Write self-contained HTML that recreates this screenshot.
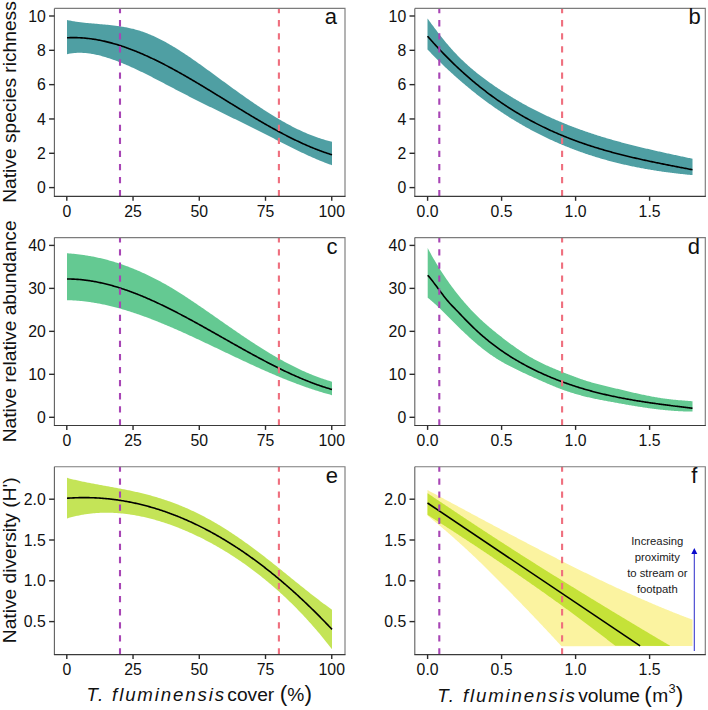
<!DOCTYPE html>
<html><head><meta charset="utf-8"><style>
html,body{margin:0;padding:0;background:#fff;}
svg{display:block;}
text{font-family:"Liberation Sans",sans-serif;fill:#111;}
.tk{font-size:15.8px;}
.lt{font-size:22px;}
.yt{font-size:19.2px;}
.xt{font-size:19.2px;}
.xi{font-size:18.7px;font-style:italic;letter-spacing:1.84px;}
.xp{font-size:22.6px;}
.xp2{font-size:20.7px;}
.xs{font-size:12.8px;}
.an{font-size:11.3px;fill:#1a1a1a;}
</style></head><body>
<svg width="708" height="710" viewBox="0 0 708 710">
<rect width="708" height="710" fill="#fff"/>
<path d="M67.00,19.98 68.00,20.20 69.00,20.40 70.00,20.60 71.00,20.79 72.00,20.98 73.00,21.15 74.00,21.32 75.00,21.48 76.00,21.63 77.00,21.78 78.00,21.92 79.00,22.06 80.00,22.19 81.00,22.32 82.00,22.44 83.00,22.55 84.00,22.66 85.00,22.77 86.00,22.88 87.00,22.98 88.00,23.08 89.00,23.17 90.00,23.26 91.00,23.35 92.00,23.44 93.00,23.53 94.00,23.62 95.00,23.70 96.00,23.79 97.00,23.87 98.00,23.96 99.00,24.04 100.00,24.13 101.00,24.21 102.00,24.30 103.00,24.39 104.00,24.48 105.00,24.57 106.00,24.66 107.00,24.76 108.00,24.86 109.00,24.96 110.00,25.06 111.00,25.17 112.00,25.28 113.00,25.40 114.00,25.51 115.00,25.64 116.00,25.76 117.00,25.90 118.00,26.03 119.00,26.18 120.00,26.32 121.00,26.48 122.00,26.64 123.00,26.81 124.00,26.98 125.00,27.16 126.00,27.34 127.00,27.54 128.00,27.74 129.00,27.95 130.00,28.17 131.00,28.39 132.00,28.63 133.00,28.87 134.00,29.12 135.00,29.39 136.00,29.66 137.00,29.94 138.00,30.23 139.00,30.53 140.00,30.85 141.00,31.17 142.00,31.50 143.00,31.85 144.00,32.20 145.00,32.57 146.00,32.94 147.00,33.33 148.00,33.72 149.00,34.13 150.00,34.54 151.00,34.97 152.00,35.40 153.00,35.85 154.00,36.30 155.00,36.76 156.00,37.23 157.00,37.70 158.00,38.19 159.00,38.69 160.00,39.19 161.00,39.70 162.00,40.22 163.00,40.75 164.00,41.28 165.00,41.82 166.00,42.37 167.00,42.93 168.00,43.49 169.00,44.06 170.00,44.64 171.00,45.22 172.00,45.81 173.00,46.41 174.00,47.01 175.00,47.62 176.00,48.23 177.00,48.85 178.00,49.48 179.00,50.11 180.00,50.74 181.00,51.38 182.00,52.03 183.00,52.68 184.00,53.34 185.00,54.00 186.00,54.67 187.00,55.33 188.00,56.01 189.00,56.69 190.00,57.37 191.00,58.05 192.00,58.74 193.00,59.44 194.00,60.13 195.00,60.83 196.00,61.53 197.00,62.24 198.00,62.95 199.00,63.66 200.00,64.37 201.00,65.08 202.00,65.80 203.00,66.52 204.00,67.24 205.00,67.97 206.00,68.69 207.00,69.42 208.00,70.14 209.00,70.87 210.00,71.60 211.00,72.33 212.00,73.06 213.00,73.80 214.00,74.53 215.00,75.26 216.00,76.00 217.00,76.73 218.00,77.46 219.00,78.19 220.00,78.93 221.00,79.66 222.00,80.39 223.00,81.13 224.00,81.86 225.00,82.59 226.00,83.32 227.00,84.05 228.00,84.78 229.00,85.51 230.00,86.24 231.00,86.96 232.00,87.69 233.00,88.41 234.00,89.14 235.00,89.86 236.00,90.58 237.00,91.30 238.00,92.02 239.00,92.73 240.00,93.45 241.00,94.16 242.00,94.87 243.00,95.58 244.00,96.29 245.00,96.99 246.00,97.69 247.00,98.39 248.00,99.09 249.00,99.79 250.00,100.48 251.00,101.17 252.00,101.86 253.00,102.55 254.00,103.23 255.00,103.91 256.00,104.59 257.00,105.26 258.00,105.93 259.00,106.60 260.00,107.27 261.00,107.93 262.00,108.59 263.00,109.24 264.00,109.89 265.00,110.54 266.00,111.18 267.00,111.82 268.00,112.46 269.00,113.09 270.00,113.72 271.00,114.35 272.00,114.97 273.00,115.58 274.00,116.19 275.00,116.80 276.00,117.40 277.00,118.00 278.00,118.60 279.00,119.19 280.00,119.77 281.00,120.35 282.00,120.92 283.00,121.49 284.00,122.06 285.00,122.62 286.00,123.17 287.00,123.72 288.00,124.26 289.00,124.80 290.00,125.33 291.00,125.86 292.00,126.38 293.00,126.90 294.00,127.41 295.00,127.91 296.00,128.41 297.00,128.90 298.00,129.39 299.00,129.86 300.00,130.34 301.00,130.80 302.00,131.26 303.00,131.72 304.00,132.16 305.00,132.60 306.00,133.04 307.00,133.46 308.00,133.88 309.00,134.30 310.00,134.70 311.00,135.10 312.00,135.49 313.00,135.87 314.00,136.25 315.00,136.62 316.00,136.98 317.00,137.33 318.00,137.68 319.00,138.02 320.00,138.35 321.00,138.67 322.00,138.98 323.00,139.29 324.00,139.59 325.00,139.88 326.00,140.16 327.00,140.43 328.00,140.70 329.00,140.95 330.00,141.20 331.00,141.44 332.00,141.67 L332.00,165.21 331.00,164.86 330.00,164.50 329.00,164.14 328.00,163.78 327.00,163.40 326.00,163.03 325.00,162.64 324.00,162.26 323.00,161.86 322.00,161.47 321.00,161.06 320.00,160.66 319.00,160.24 318.00,159.83 317.00,159.41 316.00,158.98 315.00,158.55 314.00,158.12 313.00,157.68 312.00,157.24 311.00,156.80 310.00,156.35 309.00,155.90 308.00,155.44 307.00,154.98 306.00,154.52 305.00,154.06 304.00,153.59 303.00,153.12 302.00,152.64 301.00,152.17 300.00,151.69 299.00,151.20 298.00,150.72 297.00,150.23 296.00,149.74 295.00,149.25 294.00,148.76 293.00,148.26 292.00,147.77 291.00,147.27 290.00,146.77 289.00,146.26 288.00,145.76 287.00,145.26 286.00,144.75 285.00,144.24 284.00,143.73 283.00,143.22 282.00,142.71 281.00,142.20 280.00,141.69 279.00,141.18 278.00,140.67 277.00,140.16 276.00,139.64 275.00,139.13 274.00,138.62 273.00,138.10 272.00,137.59 271.00,137.08 270.00,136.57 269.00,136.06 268.00,135.55 267.00,135.04 266.00,134.53 265.00,134.02 264.00,133.51 263.00,133.00 262.00,132.50 261.00,131.99 260.00,131.49 259.00,130.99 258.00,130.49 257.00,129.99 256.00,129.49 255.00,128.99 254.00,128.49 253.00,127.99 252.00,127.49 251.00,127.00 250.00,126.50 249.00,126.01 248.00,125.51 247.00,125.02 246.00,124.52 245.00,124.03 244.00,123.54 243.00,123.04 242.00,122.55 241.00,122.06 240.00,121.57 239.00,121.08 238.00,120.59 237.00,120.10 236.00,119.61 235.00,119.12 234.00,118.63 233.00,118.14 232.00,117.65 231.00,117.16 230.00,116.67 229.00,116.19 228.00,115.70 227.00,115.21 226.00,114.72 225.00,114.23 224.00,113.74 223.00,113.25 222.00,112.76 221.00,112.28 220.00,111.79 219.00,111.30 218.00,110.81 217.00,110.32 216.00,109.83 215.00,109.34 214.00,108.84 213.00,108.35 212.00,107.86 211.00,107.37 210.00,106.88 209.00,106.38 208.00,105.89 207.00,105.40 206.00,104.90 205.00,104.41 204.00,103.91 203.00,103.41 202.00,102.92 201.00,102.42 200.00,101.92 199.00,101.42 198.00,100.92 197.00,100.42 196.00,99.92 195.00,99.42 194.00,98.91 193.00,98.41 192.00,97.90 191.00,97.40 190.00,96.89 189.00,96.38 188.00,95.87 187.00,95.36 186.00,94.85 185.00,94.34 184.00,93.82 183.00,93.31 182.00,92.79 181.00,92.28 180.00,91.76 179.00,91.24 178.00,90.72 177.00,90.19 176.00,89.67 175.00,89.15 174.00,88.62 173.00,88.10 172.00,87.57 171.00,87.05 170.00,86.52 169.00,85.99 168.00,85.47 167.00,84.94 166.00,84.41 165.00,83.89 164.00,83.36 163.00,82.84 162.00,82.31 161.00,81.79 160.00,81.26 159.00,80.74 158.00,80.22 157.00,79.70 156.00,79.18 155.00,78.66 154.00,78.15 153.00,77.63 152.00,77.12 151.00,76.61 150.00,76.10 149.00,75.60 148.00,75.09 147.00,74.59 146.00,74.09 145.00,73.59 144.00,73.10 143.00,72.60 142.00,72.11 141.00,71.63 140.00,71.14 139.00,70.66 138.00,70.19 137.00,69.71 136.00,69.24 135.00,68.78 134.00,68.31 133.00,67.86 132.00,67.40 131.00,66.95 130.00,66.50 129.00,66.06 128.00,65.62 127.00,65.19 126.00,64.76 125.00,64.33 124.00,63.91 123.00,63.50 122.00,63.09 121.00,62.69 120.00,62.29 119.00,61.89 118.00,61.50 117.00,61.12 116.00,60.74 115.00,60.37 114.00,60.01 113.00,59.65 112.00,59.30 111.00,58.95 110.00,58.61 109.00,58.27 108.00,57.95 107.00,57.63 106.00,57.31 105.00,57.01 104.00,56.71 103.00,56.42 102.00,56.14 101.00,55.87 100.00,55.61 99.00,55.36 98.00,55.12 97.00,54.89 96.00,54.66 95.00,54.45 94.00,54.25 93.00,54.07 92.00,53.89 91.00,53.73 90.00,53.57 89.00,53.43 88.00,53.31 87.00,53.19 86.00,53.10 85.00,53.01 84.00,52.94 83.00,52.88 82.00,52.84 81.00,52.81 80.00,52.80 79.00,52.81 78.00,52.83 77.00,52.86 76.00,52.92 75.00,52.99 74.00,53.08 73.00,53.18 72.00,53.30 71.00,53.45 70.00,53.61 69.00,53.79 68.00,53.98 67.00,54.20 Z" fill="#4f9fa3"/>
<polyline points="67.00,37.77 68.00,37.72 69.00,37.68 70.00,37.65 71.00,37.63 72.00,37.61 73.00,37.60 74.00,37.61 75.00,37.61 76.00,37.63 77.00,37.66 78.00,37.69 79.00,37.73 80.00,37.78 81.00,37.83 82.00,37.90 83.00,37.97 84.00,38.05 85.00,38.14 86.00,38.23 87.00,38.33 88.00,38.44 89.00,38.56 90.00,38.68 91.00,38.81 92.00,38.95 93.00,39.10 94.00,39.25 95.00,39.41 96.00,39.58 97.00,39.75 98.00,39.93 99.00,40.12 100.00,40.31 101.00,40.51 102.00,40.72 103.00,40.93 104.00,41.15 105.00,41.38 106.00,41.61 107.00,41.85 108.00,42.10 109.00,42.35 110.00,42.61 111.00,42.87 112.00,43.14 113.00,43.42 114.00,43.70 115.00,43.99 116.00,44.29 117.00,44.59 118.00,44.89 119.00,45.21 120.00,45.52 121.00,45.85 122.00,46.18 123.00,46.51 124.00,46.85 125.00,47.20 126.00,47.55 127.00,47.90 128.00,48.27 129.00,48.63 130.00,49.00 131.00,49.38 132.00,49.76 133.00,50.15 134.00,50.54 135.00,50.94 136.00,51.34 137.00,51.74 138.00,52.16 139.00,52.57 140.00,52.99 141.00,53.42 142.00,53.85 143.00,54.28 144.00,54.72 145.00,55.16 146.00,55.61 147.00,56.06 148.00,56.51 149.00,56.97 150.00,57.44 151.00,57.90 152.00,58.37 153.00,58.85 154.00,59.33 155.00,59.81 156.00,60.30 157.00,60.79 158.00,61.28 159.00,61.78 160.00,62.28 161.00,62.79 162.00,63.29 163.00,63.81 164.00,64.32 165.00,64.84 166.00,65.36 167.00,65.88 168.00,66.41 169.00,66.94 170.00,67.48 171.00,68.01 172.00,68.55 173.00,69.09 174.00,69.64 175.00,70.19 176.00,70.74 177.00,71.29 178.00,71.85 179.00,72.40 180.00,72.96 181.00,73.53 182.00,74.09 183.00,74.66 184.00,75.23 185.00,75.80 186.00,76.38 187.00,76.95 188.00,77.53 189.00,78.11 190.00,78.69 191.00,79.28 192.00,79.86 193.00,80.45 194.00,81.04 195.00,81.63 196.00,82.23 197.00,82.82 198.00,83.42 199.00,84.01 200.00,84.61 201.00,85.21 202.00,85.81 203.00,86.42 204.00,87.02 205.00,87.62 206.00,88.23 207.00,88.84 208.00,89.44 209.00,90.05 210.00,90.66 211.00,91.27 212.00,91.88 213.00,92.50 214.00,93.11 215.00,93.72 216.00,94.34 217.00,94.95 218.00,95.56 219.00,96.18 220.00,96.79 221.00,97.41 222.00,98.02 223.00,98.64 224.00,99.26 225.00,99.87 226.00,100.49 227.00,101.10 228.00,101.72 229.00,102.34 230.00,102.95 231.00,103.57 232.00,104.18 233.00,104.80 234.00,105.41 235.00,106.02 236.00,106.64 237.00,107.25 238.00,107.86 239.00,108.47 240.00,109.08 241.00,109.69 242.00,110.30 243.00,110.91 244.00,111.51 245.00,112.12 246.00,112.72 247.00,113.33 248.00,113.93 249.00,114.53 250.00,115.13 251.00,115.73 252.00,116.33 253.00,116.92 254.00,117.51 255.00,118.11 256.00,118.70 257.00,119.29 258.00,119.87 259.00,120.46 260.00,121.04 261.00,121.63 262.00,122.21 263.00,122.78 264.00,123.36 265.00,123.93 266.00,124.51 267.00,125.08 268.00,125.64 269.00,126.21 270.00,126.77 271.00,127.33 272.00,127.89 273.00,128.44 274.00,129.00 275.00,129.55 276.00,130.09 277.00,130.64 278.00,131.18 279.00,131.72 280.00,132.25 281.00,132.79 282.00,133.32 283.00,133.84 284.00,134.37 285.00,134.89 286.00,135.41 287.00,135.92 288.00,136.43 289.00,136.94 290.00,137.44 291.00,137.94 292.00,138.44 293.00,138.93 294.00,139.42 295.00,139.91 296.00,140.39 297.00,140.87 298.00,141.34 299.00,141.81 300.00,142.28 301.00,142.74 302.00,143.20 303.00,143.66 304.00,144.11 305.00,144.55 306.00,144.99 307.00,145.43 308.00,145.86 309.00,146.29 310.00,146.72 311.00,147.14 312.00,147.55 313.00,147.96 314.00,148.37 315.00,148.77 316.00,149.16 317.00,149.55 318.00,149.94 319.00,150.32 320.00,150.69 321.00,151.07 322.00,151.43 323.00,151.79 324.00,152.15 325.00,152.50 326.00,152.84 327.00,153.18 328.00,153.51 329.00,153.84 330.00,154.16 331.00,154.48 332.00,154.79" fill="none" stroke="#000" stroke-width="1.6" stroke-linejoin="round"/>
<line x1="120.0" y1="8.4" x2="120.0" y2="196.4" stroke="#a845b5" stroke-width="2.1" stroke-dasharray="6.3 6.77" stroke-dashoffset="1.35"/>
<line x1="278.9" y1="8.4" x2="278.9" y2="196.4" stroke="#ef6f7e" stroke-width="2.1" stroke-dasharray="6.3 6.77" stroke-dashoffset="1.35"/>
<path d="M54.4,8.4H345.0V196.4" fill="none" stroke="#7c7c7c" stroke-width="1.15"/>
<path d="M54.4,196.4V8.4" fill="none" stroke="#5e5e5e" stroke-width="1.1"/>
<path d="M53.9,196.4H345.5" fill="none" stroke="#3a3a3a" stroke-width="1.1"/>
<line x1="66.80" y1="196.4" x2="66.80" y2="200.8" stroke="#2a2a2a" stroke-width="1.4"/>
<line x1="133.04" y1="196.4" x2="133.04" y2="200.8" stroke="#2a2a2a" stroke-width="1.4"/>
<line x1="199.28" y1="196.4" x2="199.28" y2="200.8" stroke="#2a2a2a" stroke-width="1.4"/>
<line x1="265.51" y1="196.4" x2="265.51" y2="200.8" stroke="#2a2a2a" stroke-width="1.4"/>
<line x1="331.75" y1="196.4" x2="331.75" y2="200.8" stroke="#2a2a2a" stroke-width="1.4"/>
<line x1="49.1" y1="187.60" x2="54.4" y2="187.60" stroke="#2a2a2a" stroke-width="1.4"/>
<text x="45.8" y="193.20" text-anchor="end" class="tk">0</text>
<line x1="49.1" y1="153.28" x2="54.4" y2="153.28" stroke="#2a2a2a" stroke-width="1.4"/>
<text x="45.8" y="158.88" text-anchor="end" class="tk">2</text>
<line x1="49.1" y1="118.96" x2="54.4" y2="118.96" stroke="#2a2a2a" stroke-width="1.4"/>
<text x="45.8" y="124.56" text-anchor="end" class="tk">4</text>
<line x1="49.1" y1="84.64" x2="54.4" y2="84.64" stroke="#2a2a2a" stroke-width="1.4"/>
<text x="45.8" y="90.24" text-anchor="end" class="tk">6</text>
<line x1="49.1" y1="50.32" x2="54.4" y2="50.32" stroke="#2a2a2a" stroke-width="1.4"/>
<text x="45.8" y="55.92" text-anchor="end" class="tk">8</text>
<line x1="49.1" y1="16.00" x2="54.4" y2="16.00" stroke="#2a2a2a" stroke-width="1.4"/>
<text x="45.8" y="21.60" text-anchor="end" class="tk">10</text>
<text x="337.00" y="24.20" text-anchor="end" class="lt">a</text>
<path d="M427.50,18.40 428.50,19.78 429.50,21.15 430.50,22.52 431.50,23.88 432.50,25.23 433.50,26.57 434.50,27.91 435.50,29.24 436.50,30.56 437.50,31.88 438.50,33.18 439.50,34.47 440.50,35.75 441.50,37.02 442.50,38.28 443.50,39.52 444.50,40.76 445.50,41.97 446.50,43.18 447.50,44.37 448.50,45.54 449.50,46.70 450.50,47.84 451.50,48.97 452.50,50.08 453.50,51.17 454.50,52.25 455.50,53.32 456.50,54.36 457.50,55.40 458.50,56.42 459.50,57.42 460.50,58.41 461.50,59.39 462.50,60.36 463.50,61.31 464.50,62.25 465.50,63.17 466.50,64.09 467.50,64.99 468.50,65.88 469.50,66.76 470.50,67.63 471.50,68.49 472.50,69.33 473.50,70.17 474.50,71.00 475.50,71.82 476.50,72.63 477.50,73.43 478.50,74.22 479.50,75.00 480.50,75.78 481.50,76.55 482.50,77.31 483.50,78.06 484.50,78.80 485.50,79.54 486.50,80.28 487.50,81.00 488.50,81.72 489.50,82.44 490.50,83.15 491.50,83.86 492.50,84.56 493.50,85.25 494.50,85.94 495.50,86.63 496.50,87.31 497.50,87.99 498.50,88.66 499.50,89.32 500.50,89.98 501.50,90.64 502.50,91.29 503.50,91.94 504.50,92.58 505.50,93.22 506.50,93.85 507.50,94.48 508.50,95.11 509.50,95.73 510.50,96.34 511.50,96.95 512.50,97.56 513.50,98.16 514.50,98.76 515.50,99.35 516.50,99.94 517.50,100.52 518.50,101.10 519.50,101.68 520.50,102.25 521.50,102.81 522.50,103.38 523.50,103.94 524.50,104.49 525.50,105.04 526.50,105.59 527.50,106.13 528.50,106.67 529.50,107.20 530.50,107.73 531.50,108.25 532.50,108.78 533.50,109.29 534.50,109.81 535.50,110.32 536.50,110.82 537.50,111.33 538.50,111.82 539.50,112.32 540.50,112.81 541.50,113.30 542.50,113.78 543.50,114.26 544.50,114.74 545.50,115.21 546.50,115.68 547.50,116.14 548.50,116.60 549.50,117.06 550.50,117.52 551.50,117.97 552.50,118.42 553.50,118.86 554.50,119.30 555.50,119.74 556.50,120.17 557.50,120.60 558.50,121.03 559.50,121.45 560.50,121.87 561.50,122.29 562.50,122.71 563.50,123.12 564.50,123.52 565.50,123.93 566.50,124.33 567.50,124.73 568.50,125.13 569.50,125.52 570.50,125.91 571.50,126.29 572.50,126.68 573.50,127.06 574.50,127.44 575.50,127.81 576.50,128.18 577.50,128.55 578.50,128.92 579.50,129.28 580.50,129.64 581.50,130.00 582.50,130.36 583.50,130.71 584.50,131.06 585.50,131.41 586.50,131.75 587.50,132.09 588.50,132.43 589.50,132.77 590.50,133.11 591.50,133.44 592.50,133.77 593.50,134.09 594.50,134.42 595.50,134.74 596.50,135.06 597.50,135.38 598.50,135.70 599.50,136.01 600.50,136.32 601.50,136.63 602.50,136.94 603.50,137.24 604.50,137.54 605.50,137.84 606.50,138.14 607.50,138.44 608.50,138.73 609.50,139.02 610.50,139.31 611.50,139.60 612.50,139.89 613.50,140.17 614.50,140.45 615.50,140.73 616.50,141.01 617.50,141.29 618.50,141.56 619.50,141.84 620.50,142.11 621.50,142.38 622.50,142.65 623.50,142.91 624.50,143.18 625.50,143.44 626.50,143.70 627.50,143.96 628.50,144.22 629.50,144.48 630.50,144.73 631.50,144.99 632.50,145.24 633.50,145.49 634.50,145.74 635.50,145.99 636.50,146.24 637.50,146.48 638.50,146.73 639.50,146.97 640.50,147.21 641.50,147.45 642.50,147.69 643.50,147.93 644.50,148.17 645.50,148.41 646.50,148.64 647.50,148.87 648.50,149.11 649.50,149.34 650.50,149.57 651.50,149.80 652.50,150.03 653.50,150.26 654.50,150.49 655.50,150.71 656.50,150.94 657.50,151.16 658.50,151.39 659.50,151.61 660.50,151.83 661.50,152.06 662.50,152.28 663.50,152.50 664.50,152.72 665.50,152.94 666.50,153.16 667.50,153.38 668.50,153.59 669.50,153.81 670.50,154.03 671.50,154.24 672.50,154.46 673.50,154.68 674.50,154.89 675.50,155.11 676.50,155.32 677.50,155.54 678.50,155.75 679.50,155.96 680.50,156.18 681.50,156.39 682.50,156.60 683.50,156.82 684.50,157.03 685.50,157.24 686.50,157.46 687.50,157.67 688.50,157.88 689.50,158.09 690.50,158.31 691.50,158.52 692.50,158.73 L692.50,175.12 691.50,175.02 690.50,174.93 689.50,174.83 688.50,174.74 687.50,174.64 686.50,174.54 685.50,174.44 684.50,174.33 683.50,174.23 682.50,174.12 681.50,174.01 680.50,173.90 679.50,173.79 678.50,173.68 677.50,173.56 676.50,173.45 675.50,173.33 674.50,173.21 673.50,173.09 672.50,172.96 671.50,172.84 670.50,172.71 669.50,172.58 668.50,172.45 667.50,172.32 666.50,172.19 665.50,172.05 664.50,171.91 663.50,171.77 662.50,171.63 661.50,171.49 660.50,171.34 659.50,171.19 658.50,171.04 657.50,170.89 656.50,170.74 655.50,170.58 654.50,170.42 653.50,170.26 652.50,170.10 651.50,169.94 650.50,169.77 649.50,169.60 648.50,169.43 647.50,169.26 646.50,169.08 645.50,168.90 644.50,168.73 643.50,168.54 642.50,168.36 641.50,168.17 640.50,167.98 639.50,167.79 638.50,167.60 637.50,167.41 636.50,167.21 635.50,167.01 634.50,166.81 633.50,166.60 632.50,166.39 631.50,166.18 630.50,165.97 629.50,165.76 628.50,165.54 627.50,165.32 626.50,165.10 625.50,164.87 624.50,164.65 623.50,164.42 622.50,164.18 621.50,163.95 620.50,163.71 619.50,163.47 618.50,163.23 617.50,162.98 616.50,162.73 615.50,162.48 614.50,162.23 613.50,161.97 612.50,161.72 611.50,161.45 610.50,161.19 609.50,160.92 608.50,160.65 607.50,160.38 606.50,160.10 605.50,159.82 604.50,159.54 603.50,159.26 602.50,158.97 601.50,158.68 600.50,158.39 599.50,158.09 598.50,157.79 597.50,157.49 596.50,157.19 595.50,156.88 594.50,156.57 593.50,156.25 592.50,155.94 591.50,155.62 590.50,155.29 589.50,154.97 588.50,154.64 587.50,154.31 586.50,153.97 585.50,153.63 584.50,153.29 583.50,152.94 582.50,152.60 581.50,152.24 580.50,151.89 579.50,151.53 578.50,151.17 577.50,150.80 576.50,150.44 575.50,150.07 574.50,149.69 573.50,149.31 572.50,148.93 571.50,148.55 570.50,148.16 569.50,147.77 568.50,147.37 567.50,146.97 566.50,146.57 565.50,146.16 564.50,145.76 563.50,145.34 562.50,144.93 561.50,144.51 560.50,144.08 559.50,143.66 558.50,143.23 557.50,142.79 556.50,142.35 555.50,141.91 554.50,141.47 553.50,141.02 552.50,140.57 551.50,140.11 550.50,139.65 549.50,139.19 548.50,138.72 547.50,138.25 546.50,137.77 545.50,137.29 544.50,136.81 543.50,136.33 542.50,135.83 541.50,135.34 540.50,134.84 539.50,134.34 538.50,133.83 537.50,133.32 536.50,132.81 535.50,132.29 534.50,131.77 533.50,131.25 532.50,130.72 531.50,130.18 530.50,129.64 529.50,129.10 528.50,128.56 527.50,128.01 526.50,127.45 525.50,126.89 524.50,126.33 523.50,125.76 522.50,125.19 521.50,124.62 520.50,124.04 519.50,123.45 518.50,122.87 517.50,122.27 516.50,121.68 515.50,121.08 514.50,120.47 513.50,119.86 512.50,119.25 511.50,118.63 510.50,118.01 509.50,117.38 508.50,116.75 507.50,116.11 506.50,115.47 505.50,114.83 504.50,114.18 503.50,113.53 502.50,112.87 501.50,112.21 500.50,111.54 499.50,110.87 498.50,110.19 497.50,109.51 496.50,108.83 495.50,108.14 494.50,107.44 493.50,106.74 492.50,106.04 491.50,105.33 490.50,104.62 489.50,103.90 488.50,103.18 487.50,102.45 486.50,101.72 485.50,100.98 484.50,100.24 483.50,99.49 482.50,98.74 481.50,97.98 480.50,97.22 479.50,96.45 478.50,95.68 477.50,94.91 476.50,94.13 475.50,93.34 474.50,92.55 473.50,91.75 472.50,90.95 471.50,90.15 470.50,89.34 469.50,88.52 468.50,87.70 467.50,86.87 466.50,86.04 465.50,85.21 464.50,84.37 463.50,83.52 462.50,82.67 461.50,81.81 460.50,80.95 459.50,80.08 458.50,79.21 457.50,78.33 456.50,77.45 455.50,76.56 454.50,75.67 453.50,74.77 452.50,73.87 451.50,72.96 450.50,72.04 449.50,71.12 448.50,70.20 447.50,69.27 446.50,68.33 445.50,67.39 444.50,66.44 443.50,65.49 442.50,64.53 441.50,63.57 440.50,62.60 439.50,61.63 438.50,60.65 437.50,59.66 436.50,58.67 435.50,57.67 434.50,56.67 433.50,55.66 432.50,54.65 431.50,53.63 430.50,52.61 429.50,51.58 428.50,50.54 427.50,49.50 Z" fill="#4f9fa3"/>
<polyline points="427.50,36.17 428.50,37.32 429.50,38.45 430.50,39.58 431.50,40.70 432.50,41.82 433.50,42.92 434.50,44.02 435.50,45.12 436.50,46.20 437.50,47.28 438.50,48.35 439.50,49.41 440.50,50.47 441.50,51.52 442.50,52.57 443.50,53.60 444.50,54.63 445.50,55.65 446.50,56.67 447.50,57.68 448.50,58.68 449.50,59.68 450.50,60.66 451.50,61.65 452.50,62.62 453.50,63.59 454.50,64.55 455.50,65.51 456.50,66.46 457.50,67.40 458.50,68.33 459.50,69.26 460.50,70.19 461.50,71.10 462.50,72.01 463.50,72.92 464.50,73.81 465.50,74.70 466.50,75.59 467.50,76.47 468.50,77.34 469.50,78.21 470.50,79.07 471.50,79.92 472.50,80.77 473.50,81.61 474.50,82.44 475.50,83.27 476.50,84.10 477.50,84.92 478.50,85.73 479.50,86.53 480.50,87.33 481.50,88.13 482.50,88.91 483.50,89.70 484.50,90.47 485.50,91.24 486.50,92.01 487.50,92.77 488.50,93.52 489.50,94.27 490.50,95.01 491.50,95.75 492.50,96.48 493.50,97.21 494.50,97.93 495.50,98.64 496.50,99.35 497.50,100.06 498.50,100.76 499.50,101.45 500.50,102.14 501.50,102.82 502.50,103.50 503.50,104.17 504.50,104.84 505.50,105.50 506.50,106.16 507.50,106.81 508.50,107.46 509.50,108.10 510.50,108.74 511.50,109.37 512.50,109.99 513.50,110.62 514.50,111.23 515.50,111.84 516.50,112.45 517.50,113.05 518.50,113.65 519.50,114.24 520.50,114.83 521.50,115.41 522.50,115.99 523.50,116.57 524.50,117.14 525.50,117.70 526.50,118.26 527.50,118.82 528.50,119.37 529.50,119.91 530.50,120.46 531.50,120.99 532.50,121.53 533.50,122.05 534.50,122.58 535.50,123.10 536.50,123.62 537.50,124.13 538.50,124.63 539.50,125.14 540.50,125.64 541.50,126.13 542.50,126.62 543.50,127.11 544.50,127.59 545.50,128.07 546.50,128.54 547.50,129.01 548.50,129.48 549.50,129.94 550.50,130.40 551.50,130.86 552.50,131.31 553.50,131.75 554.50,132.20 555.50,132.64 556.50,133.07 557.50,133.50 558.50,133.93 559.50,134.36 560.50,134.78 561.50,135.20 562.50,135.61 563.50,136.02 564.50,136.43 565.50,136.83 566.50,137.23 567.50,137.63 568.50,138.02 569.50,138.41 570.50,138.80 571.50,139.18 572.50,139.56 573.50,139.94 574.50,140.31 575.50,140.68 576.50,141.05 577.50,141.41 578.50,141.77 579.50,142.13 580.50,142.49 581.50,142.84 582.50,143.19 583.50,143.53 584.50,143.88 585.50,144.22 586.50,144.55 587.50,144.89 588.50,145.22 589.50,145.55 590.50,145.87 591.50,146.20 592.50,146.52 593.50,146.83 594.50,147.15 595.50,147.46 596.50,147.77 597.50,148.08 598.50,148.38 599.50,148.69 600.50,148.99 601.50,149.28 602.50,149.58 603.50,149.87 604.50,150.16 605.50,150.45 606.50,150.73 607.50,151.02 608.50,151.30 609.50,151.58 610.50,151.85 611.50,152.13 612.50,152.40 613.50,152.67 614.50,152.94 615.50,153.20 616.50,153.47 617.50,153.73 618.50,153.99 619.50,154.25 620.50,154.50 621.50,154.76 622.50,155.01 623.50,155.26 624.50,155.51 625.50,155.76 626.50,156.00 627.50,156.24 628.50,156.49 629.50,156.73 630.50,156.96 631.50,157.20 632.50,157.44 633.50,157.67 634.50,157.90 635.50,158.13 636.50,158.36 637.50,158.59 638.50,158.82 639.50,159.04 640.50,159.27 641.50,159.49 642.50,159.71 643.50,159.93 644.50,160.15 645.50,160.36 646.50,160.58 647.50,160.80 648.50,161.01 649.50,161.22 650.50,161.43 651.50,161.64 652.50,161.85 653.50,162.06 654.50,162.27 655.50,162.48 656.50,162.68 657.50,162.89 658.50,163.09 659.50,163.30 660.50,163.50 661.50,163.70 662.50,163.90 663.50,164.10 664.50,164.30 665.50,164.50 666.50,164.70 667.50,164.90 668.50,165.09 669.50,165.29 670.50,165.49 671.50,165.68 672.50,165.88 673.50,166.07 674.50,166.27 675.50,166.46 676.50,166.65 677.50,166.85 678.50,167.04 679.50,167.23 680.50,167.43 681.50,167.62 682.50,167.81 683.50,168.00 684.50,168.20 685.50,168.39 686.50,168.58 687.50,168.77 688.50,168.96 689.50,169.16 690.50,169.35 691.50,169.54 692.50,169.73" fill="none" stroke="#000" stroke-width="1.6" stroke-linejoin="round"/>
<line x1="439.3" y1="8.4" x2="439.3" y2="196.4" stroke="#a845b5" stroke-width="2.1" stroke-dasharray="6.3 6.77" stroke-dashoffset="1.35"/>
<line x1="562.1" y1="8.4" x2="562.1" y2="196.4" stroke="#ef6f7e" stroke-width="2.1" stroke-dasharray="6.3 6.77" stroke-dashoffset="1.35"/>
<path d="M414.8,8.4H705.3V196.4" fill="none" stroke="#7c7c7c" stroke-width="1.15"/>
<path d="M414.8,196.4V8.4" fill="none" stroke="#5e5e5e" stroke-width="1.1"/>
<path d="M414.3,196.4H705.8" fill="none" stroke="#3a3a3a" stroke-width="1.1"/>
<line x1="427.60" y1="196.4" x2="427.60" y2="200.8" stroke="#2a2a2a" stroke-width="1.4"/>
<line x1="501.60" y1="196.4" x2="501.60" y2="200.8" stroke="#2a2a2a" stroke-width="1.4"/>
<line x1="575.60" y1="196.4" x2="575.60" y2="200.8" stroke="#2a2a2a" stroke-width="1.4"/>
<line x1="649.60" y1="196.4" x2="649.60" y2="200.8" stroke="#2a2a2a" stroke-width="1.4"/>
<line x1="409.5" y1="187.60" x2="414.8" y2="187.60" stroke="#2a2a2a" stroke-width="1.4"/>
<text x="406.2" y="193.20" text-anchor="end" class="tk">0</text>
<line x1="409.5" y1="153.28" x2="414.8" y2="153.28" stroke="#2a2a2a" stroke-width="1.4"/>
<text x="406.2" y="158.88" text-anchor="end" class="tk">2</text>
<line x1="409.5" y1="118.96" x2="414.8" y2="118.96" stroke="#2a2a2a" stroke-width="1.4"/>
<text x="406.2" y="124.56" text-anchor="end" class="tk">4</text>
<line x1="409.5" y1="84.64" x2="414.8" y2="84.64" stroke="#2a2a2a" stroke-width="1.4"/>
<text x="406.2" y="90.24" text-anchor="end" class="tk">6</text>
<line x1="409.5" y1="50.32" x2="414.8" y2="50.32" stroke="#2a2a2a" stroke-width="1.4"/>
<text x="406.2" y="55.92" text-anchor="end" class="tk">8</text>
<line x1="409.5" y1="16.00" x2="414.8" y2="16.00" stroke="#2a2a2a" stroke-width="1.4"/>
<text x="406.2" y="21.60" text-anchor="end" class="tk">10</text>
<text x="700.70" y="24.20" text-anchor="end" class="lt">b</text>
<path d="M67.00,253.27 68.00,253.33 69.00,253.41 70.00,253.48 71.00,253.56 72.00,253.65 73.00,253.74 74.00,253.83 75.00,253.94 76.00,254.04 77.00,254.15 78.00,254.27 79.00,254.39 80.00,254.52 81.00,254.65 82.00,254.78 83.00,254.92 84.00,255.07 85.00,255.22 86.00,255.38 87.00,255.54 88.00,255.71 89.00,255.88 90.00,256.05 91.00,256.24 92.00,256.42 93.00,256.62 94.00,256.81 95.00,257.02 96.00,257.22 97.00,257.44 98.00,257.65 99.00,257.88 100.00,258.10 101.00,258.34 102.00,258.58 103.00,258.82 104.00,259.07 105.00,259.32 106.00,259.58 107.00,259.85 108.00,260.12 109.00,260.39 110.00,260.67 111.00,260.96 112.00,261.25 113.00,261.55 114.00,261.85 115.00,262.15 116.00,262.47 117.00,262.78 118.00,263.11 119.00,263.43 120.00,263.77 121.00,264.10 122.00,264.45 123.00,264.80 124.00,265.15 125.00,265.51 126.00,265.88 127.00,266.25 128.00,266.62 129.00,267.00 130.00,267.39 131.00,267.78 132.00,268.18 133.00,268.58 134.00,268.99 135.00,269.40 136.00,269.82 137.00,270.24 138.00,270.67 139.00,271.10 140.00,271.53 141.00,271.98 142.00,272.42 143.00,272.88 144.00,273.33 145.00,273.79 146.00,274.26 147.00,274.73 148.00,275.21 149.00,275.69 150.00,276.18 151.00,276.67 152.00,277.16 153.00,277.66 154.00,278.17 155.00,278.68 156.00,279.20 157.00,279.72 158.00,280.24 159.00,280.77 160.00,281.31 161.00,281.85 162.00,282.39 163.00,282.94 164.00,283.50 165.00,284.06 166.00,284.62 167.00,285.19 168.00,285.77 169.00,286.35 170.00,286.93 171.00,287.53 172.00,288.12 173.00,288.72 174.00,289.33 175.00,289.94 176.00,290.55 177.00,291.17 178.00,291.79 179.00,292.42 180.00,293.05 181.00,293.68 182.00,294.32 183.00,294.96 184.00,295.61 185.00,296.26 186.00,296.91 187.00,297.57 188.00,298.22 189.00,298.89 190.00,299.55 191.00,300.22 192.00,300.88 193.00,301.56 194.00,302.23 195.00,302.90 196.00,303.58 197.00,304.26 198.00,304.94 199.00,305.63 200.00,306.31 201.00,307.00 202.00,307.68 203.00,308.37 204.00,309.06 205.00,309.75 206.00,310.44 207.00,311.14 208.00,311.83 209.00,312.53 210.00,313.22 211.00,313.92 212.00,314.61 213.00,315.31 214.00,316.01 215.00,316.70 216.00,317.40 217.00,318.10 218.00,318.80 219.00,319.50 220.00,320.19 221.00,320.89 222.00,321.59 223.00,322.29 224.00,322.98 225.00,323.68 226.00,324.38 227.00,325.07 228.00,325.77 229.00,326.46 230.00,327.16 231.00,327.85 232.00,328.54 233.00,329.23 234.00,329.92 235.00,330.61 236.00,331.30 237.00,331.98 238.00,332.67 239.00,333.35 240.00,334.03 241.00,334.71 242.00,335.39 243.00,336.07 244.00,336.74 245.00,337.41 246.00,338.08 247.00,338.75 248.00,339.42 249.00,340.08 250.00,340.75 251.00,341.41 252.00,342.06 253.00,342.72 254.00,343.37 255.00,344.02 256.00,344.67 257.00,345.31 258.00,345.95 259.00,346.59 260.00,347.22 261.00,347.85 262.00,348.48 263.00,349.11 264.00,349.73 265.00,350.35 266.00,350.96 267.00,351.58 268.00,352.18 269.00,352.79 270.00,353.39 271.00,353.99 272.00,354.58 273.00,355.17 274.00,355.76 275.00,356.34 276.00,356.92 277.00,357.50 278.00,358.07 279.00,358.63 280.00,359.20 281.00,359.76 282.00,360.31 283.00,360.86 284.00,361.41 285.00,361.95 286.00,362.49 287.00,363.02 288.00,363.55 289.00,364.07 290.00,364.59 291.00,365.10 292.00,365.61 293.00,366.12 294.00,366.62 295.00,367.12 296.00,367.61 297.00,368.09 298.00,368.57 299.00,369.05 300.00,369.52 301.00,369.99 302.00,370.45 303.00,370.90 304.00,371.35 305.00,371.80 306.00,372.24 307.00,372.67 308.00,373.10 309.00,373.52 310.00,373.94 311.00,374.35 312.00,374.76 313.00,375.16 314.00,375.55 315.00,375.94 316.00,376.33 317.00,376.71 318.00,377.08 319.00,377.45 320.00,377.81 321.00,378.16 322.00,378.51 323.00,378.85 324.00,379.19 325.00,379.52 326.00,379.85 327.00,380.16 328.00,380.48 329.00,380.78 330.00,381.08 331.00,381.38 332.00,381.66 L332.00,395.15 331.00,394.88 330.00,394.62 329.00,394.35 328.00,394.07 327.00,393.79 326.00,393.51 325.00,393.22 324.00,392.93 323.00,392.64 322.00,392.34 321.00,392.04 320.00,391.74 319.00,391.43 318.00,391.12 317.00,390.81 316.00,390.49 315.00,390.17 314.00,389.85 313.00,389.52 312.00,389.19 311.00,388.86 310.00,388.52 309.00,388.18 308.00,387.84 307.00,387.49 306.00,387.14 305.00,386.79 304.00,386.44 303.00,386.08 302.00,385.72 301.00,385.36 300.00,384.99 299.00,384.62 298.00,384.25 297.00,383.88 296.00,383.50 295.00,383.12 294.00,382.74 293.00,382.36 292.00,381.97 291.00,381.58 290.00,381.19 289.00,380.80 288.00,380.40 287.00,380.00 286.00,379.60 285.00,379.20 284.00,378.79 283.00,378.38 282.00,377.97 281.00,377.56 280.00,377.15 279.00,376.73 278.00,376.31 277.00,375.89 276.00,375.47 275.00,375.05 274.00,374.62 273.00,374.19 272.00,373.76 271.00,373.33 270.00,372.90 269.00,372.46 268.00,372.03 267.00,371.59 266.00,371.15 265.00,370.71 264.00,370.27 263.00,369.82 262.00,369.38 261.00,368.93 260.00,368.48 259.00,368.03 258.00,367.58 257.00,367.13 256.00,366.67 255.00,366.22 254.00,365.76 253.00,365.30 252.00,364.84 251.00,364.38 250.00,363.92 249.00,363.46 248.00,363.00 247.00,362.54 246.00,362.07 245.00,361.60 244.00,361.14 243.00,360.67 242.00,360.20 241.00,359.73 240.00,359.27 239.00,358.80 238.00,358.32 237.00,357.85 236.00,357.38 235.00,356.91 234.00,356.44 233.00,355.96 232.00,355.49 231.00,355.01 230.00,354.54 229.00,354.06 228.00,353.59 227.00,353.11 226.00,352.64 225.00,352.16 224.00,351.69 223.00,351.21 222.00,350.73 221.00,350.26 220.00,349.78 219.00,349.30 218.00,348.83 217.00,348.35 216.00,347.87 215.00,347.40 214.00,346.92 213.00,346.45 212.00,345.97 211.00,345.50 210.00,345.02 209.00,344.55 208.00,344.07 207.00,343.60 206.00,343.13 205.00,342.65 204.00,342.18 203.00,341.71 202.00,341.24 201.00,340.77 200.00,340.30 199.00,339.83 198.00,339.36 197.00,338.90 196.00,338.43 195.00,337.96 194.00,337.50 193.00,337.04 192.00,336.57 191.00,336.11 190.00,335.65 189.00,335.19 188.00,334.74 187.00,334.28 186.00,333.82 185.00,333.37 184.00,332.92 183.00,332.47 182.00,332.02 181.00,331.57 180.00,331.12 179.00,330.68 178.00,330.23 177.00,329.79 176.00,329.35 175.00,328.91 174.00,328.47 173.00,328.04 172.00,327.61 171.00,327.17 170.00,326.74 169.00,326.32 168.00,325.89 167.00,325.47 166.00,325.05 165.00,324.63 164.00,324.21 163.00,323.79 162.00,323.38 161.00,322.97 160.00,322.56 159.00,322.16 158.00,321.75 157.00,321.35 156.00,320.95 155.00,320.56 154.00,320.16 153.00,319.77 152.00,319.38 151.00,319.00 150.00,318.62 149.00,318.24 148.00,317.86 147.00,317.48 146.00,317.11 145.00,316.74 144.00,316.38 143.00,316.01 142.00,315.66 141.00,315.30 140.00,314.94 139.00,314.59 138.00,314.25 137.00,313.90 136.00,313.56 135.00,313.22 134.00,312.89 133.00,312.56 132.00,312.23 131.00,311.91 130.00,311.59 129.00,311.27 128.00,310.96 127.00,310.65 126.00,310.34 125.00,310.04 124.00,309.74 123.00,309.45 122.00,309.16 121.00,308.87 120.00,308.59 119.00,308.31 118.00,308.03 117.00,307.76 116.00,307.49 115.00,307.23 114.00,306.97 113.00,306.72 112.00,306.47 111.00,306.22 110.00,305.98 109.00,305.74 108.00,305.51 107.00,305.28 106.00,305.05 105.00,304.84 104.00,304.62 103.00,304.41 102.00,304.20 101.00,304.00 100.00,303.81 99.00,303.61 98.00,303.43 97.00,303.24 96.00,303.07 95.00,302.89 94.00,302.73 93.00,302.56 92.00,302.41 91.00,302.25 90.00,302.11 89.00,301.96 88.00,301.83 87.00,301.70 86.00,301.57 85.00,301.45 84.00,301.33 83.00,301.22 82.00,301.12 81.00,301.02 80.00,300.92 79.00,300.83 78.00,300.75 77.00,300.67 76.00,300.60 75.00,300.54 74.00,300.48 73.00,300.42 72.00,300.37 71.00,300.33 70.00,300.29 69.00,300.26 68.00,300.24 67.00,300.22 Z" fill="#64c992"/>
<polyline points="67.00,279.00 68.00,279.00 69.00,279.01 70.00,279.03 71.00,279.05 72.00,279.08 73.00,279.12 74.00,279.16 75.00,279.21 76.00,279.27 77.00,279.34 78.00,279.41 79.00,279.49 80.00,279.57 81.00,279.67 82.00,279.76 83.00,279.87 84.00,279.98 85.00,280.10 86.00,280.23 87.00,280.36 88.00,280.50 89.00,280.64 90.00,280.79 91.00,280.95 92.00,281.11 93.00,281.28 94.00,281.45 95.00,281.64 96.00,281.82 97.00,282.02 98.00,282.21 99.00,282.42 100.00,282.63 101.00,282.85 102.00,283.07 103.00,283.30 104.00,283.53 105.00,283.77 106.00,284.01 107.00,284.26 108.00,284.52 109.00,284.78 110.00,285.05 111.00,285.32 112.00,285.59 113.00,285.88 114.00,286.16 115.00,286.46 116.00,286.75 117.00,287.05 118.00,287.36 119.00,287.67 120.00,287.99 121.00,288.31 122.00,288.64 123.00,288.97 124.00,289.31 125.00,289.65 126.00,289.99 127.00,290.34 128.00,290.70 129.00,291.05 130.00,291.42 131.00,291.79 132.00,292.16 133.00,292.53 134.00,292.91 135.00,293.30 136.00,293.69 137.00,294.08 138.00,294.47 139.00,294.88 140.00,295.28 141.00,295.69 142.00,296.10 143.00,296.52 144.00,296.94 145.00,297.36 146.00,297.79 147.00,298.22 148.00,298.65 149.00,299.09 150.00,299.53 151.00,299.97 152.00,300.42 153.00,300.87 154.00,301.33 155.00,301.79 156.00,302.25 157.00,302.71 158.00,303.18 159.00,303.65 160.00,304.12 161.00,304.60 162.00,305.08 163.00,305.56 164.00,306.04 165.00,306.53 166.00,307.02 167.00,307.51 168.00,308.01 169.00,308.51 170.00,309.01 171.00,309.51 172.00,310.01 173.00,310.52 174.00,311.03 175.00,311.54 176.00,312.06 177.00,312.58 178.00,313.09 179.00,313.62 180.00,314.14 181.00,314.66 182.00,315.19 183.00,315.72 184.00,316.25 185.00,316.78 186.00,317.32 187.00,317.85 188.00,318.39 189.00,318.93 190.00,319.47 191.00,320.01 192.00,320.56 193.00,321.10 194.00,321.65 195.00,322.20 196.00,322.75 197.00,323.30 198.00,323.85 199.00,324.40 200.00,324.96 201.00,325.51 202.00,326.07 203.00,326.63 204.00,327.19 205.00,327.74 206.00,328.30 207.00,328.87 208.00,329.43 209.00,329.99 210.00,330.55 211.00,331.12 212.00,331.68 213.00,332.24 214.00,332.81 215.00,333.37 216.00,333.94 217.00,334.51 218.00,335.07 219.00,335.64 220.00,336.20 221.00,336.77 222.00,337.34 223.00,337.91 224.00,338.47 225.00,339.04 226.00,339.61 227.00,340.17 228.00,340.74 229.00,341.30 230.00,341.87 231.00,342.44 232.00,343.00 233.00,343.57 234.00,344.13 235.00,344.69 236.00,345.26 237.00,345.82 238.00,346.38 239.00,346.94 240.00,347.50 241.00,348.06 242.00,348.62 243.00,349.18 244.00,349.73 245.00,350.29 246.00,350.84 247.00,351.40 248.00,351.95 249.00,352.50 250.00,353.05 251.00,353.60 252.00,354.15 253.00,354.69 254.00,355.24 255.00,355.78 256.00,356.32 257.00,356.86 258.00,357.40 259.00,357.94 260.00,358.47 261.00,359.01 262.00,359.54 263.00,360.07 264.00,360.60 265.00,361.12 266.00,361.65 267.00,362.17 268.00,362.69 269.00,363.20 270.00,363.72 271.00,364.23 272.00,364.74 273.00,365.25 274.00,365.76 275.00,366.26 276.00,366.76 277.00,367.26 278.00,367.76 279.00,368.25 280.00,368.74 281.00,369.23 282.00,369.72 283.00,370.20 284.00,370.68 285.00,371.16 286.00,371.63 287.00,372.10 288.00,372.57 289.00,373.04 290.00,373.50 291.00,373.96 292.00,374.42 293.00,374.87 294.00,375.32 295.00,375.76 296.00,376.21 297.00,376.64 298.00,377.08 299.00,377.51 300.00,377.94 301.00,378.37 302.00,378.79 303.00,379.20 304.00,379.62 305.00,380.03 306.00,380.43 307.00,380.84 308.00,381.23 309.00,381.63 310.00,382.02 311.00,382.40 312.00,382.79 313.00,383.16 314.00,383.54 315.00,383.91 316.00,384.27 317.00,384.63 318.00,384.99 319.00,385.34 320.00,385.69 321.00,386.03 322.00,386.37 323.00,386.70 324.00,387.03 325.00,387.35 326.00,387.67 327.00,387.98 328.00,388.29 329.00,388.60 330.00,388.90 331.00,389.19 332.00,389.48" fill="none" stroke="#000" stroke-width="1.6" stroke-linejoin="round"/>
<line x1="120.0" y1="237.6" x2="120.0" y2="425.5" stroke="#a845b5" stroke-width="2.1" stroke-dasharray="6.3 6.77" stroke-dashoffset="1.35"/>
<line x1="278.9" y1="237.6" x2="278.9" y2="425.5" stroke="#ef6f7e" stroke-width="2.1" stroke-dasharray="6.3 6.77" stroke-dashoffset="1.35"/>
<path d="M54.4,237.6H345.0V425.5" fill="none" stroke="#7c7c7c" stroke-width="1.15"/>
<path d="M54.4,425.5V237.6" fill="none" stroke="#5e5e5e" stroke-width="1.1"/>
<path d="M53.9,425.5H345.5" fill="none" stroke="#3a3a3a" stroke-width="1.1"/>
<line x1="66.80" y1="425.5" x2="66.80" y2="429.9" stroke="#2a2a2a" stroke-width="1.4"/>
<line x1="133.04" y1="425.5" x2="133.04" y2="429.9" stroke="#2a2a2a" stroke-width="1.4"/>
<line x1="199.28" y1="425.5" x2="199.28" y2="429.9" stroke="#2a2a2a" stroke-width="1.4"/>
<line x1="265.51" y1="425.5" x2="265.51" y2="429.9" stroke="#2a2a2a" stroke-width="1.4"/>
<line x1="331.75" y1="425.5" x2="331.75" y2="429.9" stroke="#2a2a2a" stroke-width="1.4"/>
<line x1="49.1" y1="417.30" x2="54.4" y2="417.30" stroke="#2a2a2a" stroke-width="1.4"/>
<text x="45.8" y="422.90" text-anchor="end" class="tk">0</text>
<line x1="49.1" y1="374.32" x2="54.4" y2="374.32" stroke="#2a2a2a" stroke-width="1.4"/>
<text x="45.8" y="379.93" text-anchor="end" class="tk">10</text>
<line x1="49.1" y1="331.35" x2="54.4" y2="331.35" stroke="#2a2a2a" stroke-width="1.4"/>
<text x="45.8" y="336.95" text-anchor="end" class="tk">20</text>
<line x1="49.1" y1="288.38" x2="54.4" y2="288.38" stroke="#2a2a2a" stroke-width="1.4"/>
<text x="45.8" y="293.98" text-anchor="end" class="tk">30</text>
<line x1="49.1" y1="245.40" x2="54.4" y2="245.40" stroke="#2a2a2a" stroke-width="1.4"/>
<text x="45.8" y="251.00" text-anchor="end" class="tk">40</text>
<text x="337.40" y="253.90" text-anchor="end" class="lt">c</text>
<path d="M427.70,248.10 428.70,249.96 429.70,251.80 430.70,253.62 431.70,255.41 432.70,257.17 433.70,258.91 434.69,260.62 435.69,262.31 436.69,263.97 437.69,265.62 438.69,267.23 439.69,268.83 440.69,270.41 441.69,271.96 442.69,273.49 443.69,275.01 444.69,276.50 445.69,277.97 446.69,279.42 447.68,280.86 448.68,282.27 449.68,283.67 450.68,285.05 451.68,286.41 452.68,287.76 453.68,289.08 454.68,290.40 455.68,291.70 456.68,292.98 457.68,294.25 458.68,295.50 459.68,296.74 460.68,297.96 461.67,299.17 462.67,300.37 463.67,301.55 464.67,302.71 465.67,303.86 466.67,304.99 467.67,306.11 468.67,307.22 469.67,308.31 470.67,309.39 471.67,310.45 472.67,311.49 473.67,312.52 474.66,313.54 475.66,314.55 476.66,315.54 477.66,316.52 478.66,317.49 479.66,318.44 480.66,319.39 481.66,320.32 482.66,321.24 483.66,322.15 484.66,323.05 485.66,323.94 486.66,324.82 487.65,325.70 488.65,326.56 489.65,327.41 490.65,328.26 491.65,329.10 492.65,329.93 493.65,330.75 494.65,331.56 495.65,332.37 496.65,333.18 497.65,333.97 498.65,334.76 499.65,335.55 500.64,336.33 501.64,337.11 502.64,337.88 503.64,338.65 504.64,339.41 505.64,340.17 506.64,340.93 507.64,341.68 508.64,342.43 509.64,343.17 510.64,343.90 511.64,344.63 512.64,345.36 513.64,346.08 514.63,346.79 515.63,347.50 516.63,348.20 517.63,348.90 518.63,349.58 519.63,350.27 520.63,350.94 521.63,351.60 522.63,352.26 523.63,352.91 524.63,353.55 525.63,354.19 526.63,354.81 527.62,355.42 528.62,356.03 529.62,356.63 530.62,357.22 531.62,357.79 532.62,358.36 533.62,358.92 534.62,359.47 535.62,360.00 536.62,360.53 537.62,361.06 538.62,361.57 539.62,362.07 540.61,362.57 541.61,363.06 542.61,363.54 543.61,364.01 544.61,364.48 545.61,364.94 546.61,365.40 547.61,365.84 548.61,366.29 549.61,366.73 550.61,367.16 551.61,367.59 552.61,368.02 553.60,368.44 554.60,368.85 555.60,369.27 556.60,369.68 557.60,370.09 558.60,370.49 559.60,370.90 560.60,371.30 561.60,371.70 562.60,372.10 563.60,372.50 564.60,372.89 565.60,373.29 566.60,373.68 567.59,374.07 568.59,374.46 569.59,374.85 570.59,375.23 571.59,375.61 572.59,375.99 573.59,376.37 574.59,376.74 575.59,377.11 576.59,377.47 577.59,377.84 578.59,378.19 579.59,378.55 580.58,378.89 581.58,379.24 582.58,379.58 583.58,379.91 584.58,380.24 585.58,380.57 586.58,380.88 587.58,381.20 588.58,381.50 589.58,381.80 590.58,382.10 591.58,382.39 592.58,382.67 593.57,382.95 594.57,383.22 595.57,383.48 596.57,383.75 597.57,384.01 598.57,384.26 599.57,384.51 600.57,384.76 601.57,385.01 602.57,385.26 603.57,385.50 604.57,385.74 605.57,385.98 606.56,386.22 607.56,386.46 608.56,386.70 609.56,386.94 610.56,387.18 611.56,387.42 612.56,387.66 613.56,387.90 614.56,388.14 615.56,388.39 616.56,388.63 617.56,388.87 618.56,389.11 619.56,389.35 620.55,389.59 621.55,389.83 622.55,390.07 623.55,390.31 624.55,390.55 625.55,390.79 626.55,391.03 627.55,391.26 628.55,391.50 629.55,391.73 630.55,391.97 631.55,392.20 632.55,392.43 633.54,392.66 634.54,392.88 635.54,393.11 636.54,393.34 637.54,393.56 638.54,393.78 639.54,394.00 640.54,394.22 641.54,394.43 642.54,394.64 643.54,394.85 644.54,395.06 645.54,395.27 646.53,395.47 647.53,395.67 648.53,395.87 649.53,396.06 650.53,396.26 651.53,396.45 652.53,396.63 653.53,396.81 654.53,396.99 655.53,397.17 656.53,397.34 657.53,397.51 658.53,397.68 659.52,397.84 660.52,398.00 661.52,398.15 662.52,398.31 663.52,398.45 664.52,398.59 665.52,398.73 666.52,398.87 667.52,399.00 668.52,399.12 669.52,399.24 670.52,399.36 671.52,399.47 672.52,399.58 673.51,399.68 674.51,399.78 675.51,399.87 676.51,399.96 677.51,400.05 678.51,400.13 679.51,400.22 680.51,400.30 681.51,400.37 682.51,400.45 683.51,400.53 684.51,400.60 685.51,400.68 686.50,400.75 687.50,400.82 688.50,400.90 689.50,400.98 690.50,401.06 691.50,401.14 692.50,401.22 L692.50,411.51 691.50,411.51 690.50,411.51 689.50,411.50 688.50,411.49 687.50,411.48 686.50,411.46 685.51,411.44 684.51,411.41 683.51,411.38 682.51,411.34 681.51,411.30 680.51,411.26 679.51,411.21 678.51,411.16 677.51,411.11 676.51,411.05 675.51,410.99 674.51,410.92 673.51,410.85 672.52,410.78 671.52,410.70 670.52,410.62 669.52,410.54 668.52,410.45 667.52,410.37 666.52,410.27 665.52,410.18 664.52,410.08 663.52,409.98 662.52,409.87 661.52,409.77 660.52,409.66 659.52,409.54 658.53,409.43 657.53,409.31 656.53,409.19 655.53,409.07 654.53,408.94 653.53,408.81 652.53,408.68 651.53,408.55 650.53,408.41 649.53,408.28 648.53,408.14 647.53,408.00 646.53,407.85 645.54,407.71 644.54,407.56 643.54,407.41 642.54,407.26 641.54,407.10 640.54,406.95 639.54,406.79 638.54,406.63 637.54,406.47 636.54,406.31 635.54,406.15 634.54,405.99 633.54,405.82 632.55,405.65 631.55,405.48 630.55,405.31 629.55,405.14 628.55,404.97 627.55,404.80 626.55,404.63 625.55,404.45 624.55,404.27 623.55,404.10 622.55,403.92 621.55,403.74 620.55,403.56 619.56,403.38 618.56,403.20 617.56,403.02 616.56,402.84 615.56,402.66 614.56,402.48 613.56,402.30 612.56,402.11 611.56,401.93 610.56,401.75 609.56,401.57 608.56,401.38 607.56,401.20 606.56,401.02 605.57,400.83 604.57,400.65 603.57,400.46 602.57,400.27 601.57,400.08 600.57,399.89 599.57,399.69 598.57,399.50 597.57,399.30 596.57,399.10 595.57,398.89 594.57,398.69 593.57,398.48 592.58,398.26 591.58,398.05 590.58,397.83 589.58,397.60 588.58,397.37 587.58,397.14 586.58,396.90 585.58,396.65 584.58,396.41 583.58,396.16 582.58,395.90 581.58,395.64 580.58,395.37 579.59,395.10 578.59,394.83 577.59,394.55 576.59,394.26 575.59,393.97 574.59,393.67 573.59,393.37 572.59,393.07 571.59,392.76 570.59,392.44 569.59,392.12 568.59,391.79 567.59,391.46 566.60,391.12 565.60,390.77 564.60,390.42 563.60,390.07 562.60,389.71 561.60,389.34 560.60,388.96 559.60,388.59 558.60,388.20 557.60,387.81 556.60,387.42 555.60,387.02 554.60,386.61 553.60,386.20 552.61,385.79 551.61,385.37 550.61,384.95 549.61,384.53 548.61,384.10 547.61,383.67 546.61,383.24 545.61,382.80 544.61,382.37 543.61,381.92 542.61,381.48 541.61,381.04 540.61,380.59 539.62,380.14 538.62,379.69 537.62,379.24 536.62,378.79 535.62,378.34 534.62,377.89 533.62,377.44 532.62,376.98 531.62,376.53 530.62,376.08 529.62,375.63 528.62,375.17 527.62,374.72 526.63,374.27 525.63,373.81 524.63,373.35 523.63,372.89 522.63,372.43 521.63,371.97 520.63,371.50 519.63,371.03 518.63,370.55 517.63,370.08 516.63,369.59 515.63,369.11 514.63,368.62 513.64,368.12 512.64,367.62 511.64,367.11 510.64,366.60 509.64,366.08 508.64,365.56 507.64,365.03 506.64,364.49 505.64,363.94 504.64,363.39 503.64,362.83 502.64,362.26 501.64,361.68 500.64,361.09 499.65,360.50 498.65,359.89 497.65,359.27 496.65,358.65 495.65,358.01 494.65,357.37 493.65,356.71 492.65,356.04 491.65,355.36 490.65,354.67 489.65,353.97 488.65,353.25 487.65,352.52 486.66,351.78 485.66,351.03 484.66,350.27 483.66,349.50 482.66,348.71 481.66,347.92 480.66,347.11 479.66,346.30 478.66,345.47 477.66,344.64 476.66,343.79 475.66,342.94 474.66,342.08 473.67,341.20 472.67,340.32 471.67,339.43 470.67,338.54 469.67,337.63 468.67,336.72 467.67,335.80 466.67,334.87 465.67,333.93 464.67,332.99 463.67,332.04 462.67,331.09 461.67,330.13 460.68,329.16 459.68,328.19 458.68,327.21 457.68,326.23 456.68,325.24 455.68,324.24 454.68,323.25 453.68,322.24 452.68,321.24 451.68,320.23 450.68,319.23 449.68,318.22 448.68,317.21 447.68,316.21 446.69,315.21 445.69,314.21 444.69,313.22 443.69,312.23 442.69,311.24 441.69,310.26 440.69,309.30 439.69,308.33 438.69,307.38 437.69,306.44 436.69,305.51 435.69,304.59 434.69,303.68 433.70,302.79 432.70,301.91 431.70,301.04 430.70,300.19 429.70,299.36 428.70,298.55 427.70,297.75 Z" fill="#64c992"/>
<polyline points="427.70,275.24 428.70,276.39 429.70,277.59 430.70,278.81 431.70,280.06 432.70,281.33 433.70,282.62 434.69,283.93 435.69,285.26 436.69,286.59 437.69,287.93 438.69,289.27 439.69,290.61 440.69,291.94 441.69,293.27 442.69,294.59 443.69,295.89 444.69,297.17 445.69,298.43 446.69,299.67 447.68,300.87 448.68,302.05 449.68,303.18 450.68,304.28 451.68,305.35 452.68,306.39 453.68,307.41 454.68,308.43 455.68,309.46 456.68,310.49 457.68,311.52 458.68,312.56 459.68,313.61 460.68,314.65 461.67,315.70 462.67,316.74 463.67,317.79 464.67,318.83 465.67,319.86 466.67,320.89 467.67,321.91 468.67,322.93 469.67,323.93 470.67,324.93 471.67,325.91 472.67,326.88 473.67,327.84 474.66,328.80 475.66,329.73 476.66,330.66 477.66,331.58 478.66,332.49 479.66,333.39 480.66,334.28 481.66,335.16 482.66,336.02 483.66,336.88 484.66,337.73 485.66,338.57 486.66,339.40 487.65,340.22 488.65,341.03 489.65,341.83 490.65,342.62 491.65,343.41 492.65,344.18 493.65,344.95 494.65,345.70 495.65,346.45 496.65,347.19 497.65,347.92 498.65,348.64 499.65,349.36 500.64,350.07 501.64,350.76 502.64,351.45 503.64,352.14 504.64,352.81 505.64,353.48 506.64,354.14 507.64,354.79 508.64,355.44 509.64,356.08 510.64,356.71 511.64,357.33 512.64,357.95 513.64,358.56 514.63,359.16 515.63,359.76 516.63,360.35 517.63,360.93 518.63,361.51 519.63,362.08 520.63,362.65 521.63,363.21 522.63,363.76 523.63,364.31 524.63,364.85 525.63,365.39 526.63,365.92 527.62,366.45 528.62,366.97 529.62,367.48 530.62,367.99 531.62,368.50 532.62,369.00 533.62,369.50 534.62,369.99 535.62,370.47 536.62,370.96 537.62,371.43 538.62,371.91 539.62,372.37 540.61,372.84 541.61,373.30 542.61,373.75 543.61,374.20 544.61,374.65 545.61,375.09 546.61,375.52 547.61,375.96 548.61,376.38 549.61,376.81 550.61,377.23 551.61,377.64 552.61,378.05 553.60,378.46 554.60,378.86 555.60,379.26 556.60,379.66 557.60,380.05 558.60,380.43 559.60,380.82 560.60,381.20 561.60,381.57 562.60,381.94 563.60,382.31 564.60,382.67 565.60,383.03 566.60,383.38 567.59,383.74 568.59,384.08 569.59,384.43 570.59,384.77 571.59,385.11 572.59,385.44 573.59,385.77 574.59,386.10 575.59,386.42 576.59,386.74 577.59,387.05 578.59,387.37 579.59,387.68 580.58,387.98 581.58,388.28 582.58,388.58 583.58,388.88 584.58,389.17 585.58,389.46 586.58,389.75 587.58,390.03 588.58,390.31 589.58,390.59 590.58,390.86 591.58,391.13 592.58,391.40 593.57,391.66 594.57,391.93 595.57,392.18 596.57,392.44 597.57,392.69 598.57,392.94 599.57,393.19 600.57,393.44 601.57,393.68 602.57,393.92 603.57,394.16 604.57,394.39 605.57,394.62 606.56,394.85 607.56,395.08 608.56,395.30 609.56,395.52 610.56,395.74 611.56,395.96 612.56,396.17 613.56,396.38 614.56,396.59 615.56,396.80 616.56,397.01 617.56,397.21 618.56,397.41 619.56,397.61 620.55,397.80 621.55,398.00 622.55,398.19 623.55,398.38 624.55,398.57 625.55,398.75 626.55,398.94 627.55,399.12 628.55,399.30 629.55,399.48 630.55,399.65 631.55,399.83 632.55,400.00 633.54,400.17 634.54,400.34 635.54,400.51 636.54,400.68 637.54,400.84 638.54,401.00 639.54,401.16 640.54,401.32 641.54,401.48 642.54,401.64 643.54,401.79 644.54,401.95 645.54,402.10 646.53,402.25 647.53,402.40 648.53,402.55 649.53,402.69 650.53,402.84 651.53,402.98 652.53,403.13 653.53,403.27 654.53,403.41 655.53,403.55 656.53,403.69 657.53,403.83 658.53,403.96 659.52,404.10 660.52,404.24 661.52,404.37 662.52,404.50 663.52,404.63 664.52,404.77 665.52,404.90 666.52,405.03 667.52,405.16 668.52,405.28 669.52,405.41 670.52,405.54 671.52,405.67 672.52,405.79 673.51,405.92 674.51,406.04 675.51,406.17 676.51,406.29 677.51,406.41 678.51,406.54 679.51,406.66 680.51,406.78 681.51,406.90 682.51,407.03 683.51,407.15 684.51,407.27 685.51,407.39 686.50,407.51 687.50,407.63 688.50,407.75 689.50,407.87 690.50,407.99 691.50,408.11 692.50,408.23" fill="none" stroke="#000" stroke-width="1.6" stroke-linejoin="round"/>
<line x1="439.3" y1="237.6" x2="439.3" y2="425.5" stroke="#a845b5" stroke-width="2.1" stroke-dasharray="6.3 6.77" stroke-dashoffset="1.35"/>
<line x1="562.1" y1="237.6" x2="562.1" y2="425.5" stroke="#ef6f7e" stroke-width="2.1" stroke-dasharray="6.3 6.77" stroke-dashoffset="1.35"/>
<path d="M414.8,237.6H705.3V425.5" fill="none" stroke="#7c7c7c" stroke-width="1.15"/>
<path d="M414.8,425.5V237.6" fill="none" stroke="#5e5e5e" stroke-width="1.1"/>
<path d="M414.3,425.5H705.8" fill="none" stroke="#3a3a3a" stroke-width="1.1"/>
<line x1="427.60" y1="425.5" x2="427.60" y2="429.9" stroke="#2a2a2a" stroke-width="1.4"/>
<line x1="501.60" y1="425.5" x2="501.60" y2="429.9" stroke="#2a2a2a" stroke-width="1.4"/>
<line x1="575.60" y1="425.5" x2="575.60" y2="429.9" stroke="#2a2a2a" stroke-width="1.4"/>
<line x1="649.60" y1="425.5" x2="649.60" y2="429.9" stroke="#2a2a2a" stroke-width="1.4"/>
<line x1="409.5" y1="417.30" x2="414.8" y2="417.30" stroke="#2a2a2a" stroke-width="1.4"/>
<text x="406.2" y="422.90" text-anchor="end" class="tk">0</text>
<line x1="409.5" y1="374.32" x2="414.8" y2="374.32" stroke="#2a2a2a" stroke-width="1.4"/>
<text x="406.2" y="379.93" text-anchor="end" class="tk">10</text>
<line x1="409.5" y1="331.35" x2="414.8" y2="331.35" stroke="#2a2a2a" stroke-width="1.4"/>
<text x="406.2" y="336.95" text-anchor="end" class="tk">20</text>
<line x1="409.5" y1="288.38" x2="414.8" y2="288.38" stroke="#2a2a2a" stroke-width="1.4"/>
<text x="406.2" y="293.98" text-anchor="end" class="tk">30</text>
<line x1="409.5" y1="245.40" x2="414.8" y2="245.40" stroke="#2a2a2a" stroke-width="1.4"/>
<text x="406.2" y="251.00" text-anchor="end" class="tk">40</text>
<text x="700.00" y="253.90" text-anchor="end" class="lt">d</text>
<path d="M67.00,477.85 68.00,478.12 69.00,478.39 70.00,478.64 71.00,478.90 72.00,479.15 73.00,479.39 74.00,479.64 75.00,479.87 76.00,480.11 77.00,480.34 78.00,480.56 79.00,480.78 80.00,481.00 81.00,481.22 82.00,481.43 83.00,481.64 84.00,481.85 85.00,482.06 86.00,482.26 87.00,482.46 88.00,482.66 89.00,482.85 90.00,483.05 91.00,483.24 92.00,483.43 93.00,483.62 94.00,483.81 95.00,483.99 96.00,484.18 97.00,484.36 98.00,484.55 99.00,484.73 100.00,484.91 101.00,485.09 102.00,485.27 103.00,485.45 104.00,485.63 105.00,485.81 106.00,485.99 107.00,486.17 108.00,486.35 109.00,486.53 110.00,486.71 111.00,486.90 112.00,487.08 113.00,487.26 114.00,487.44 115.00,487.63 116.00,487.81 117.00,488.00 118.00,488.19 119.00,488.38 120.00,488.57 121.00,488.76 122.00,488.95 123.00,489.15 124.00,489.34 125.00,489.54 126.00,489.74 127.00,489.95 128.00,490.15 129.00,490.36 130.00,490.57 131.00,490.78 132.00,490.99 133.00,491.21 134.00,491.43 135.00,491.65 136.00,491.88 137.00,492.10 138.00,492.33 139.00,492.57 140.00,492.80 141.00,493.04 142.00,493.29 143.00,493.53 144.00,493.78 145.00,494.03 146.00,494.29 147.00,494.55 148.00,494.81 149.00,495.08 150.00,495.35 151.00,495.62 152.00,495.90 153.00,496.18 154.00,496.47 155.00,496.76 156.00,497.05 157.00,497.35 158.00,497.65 159.00,497.96 160.00,498.27 161.00,498.58 162.00,498.90 163.00,499.22 164.00,499.55 165.00,499.88 166.00,500.22 167.00,500.56 168.00,500.91 169.00,501.26 170.00,501.61 171.00,501.97 172.00,502.33 173.00,502.70 174.00,503.07 175.00,503.45 176.00,503.83 177.00,504.22 178.00,504.61 179.00,505.01 180.00,505.41 181.00,505.82 182.00,506.23 183.00,506.65 184.00,507.07 185.00,507.50 186.00,507.93 187.00,508.37 188.00,508.81 189.00,509.25 190.00,509.71 191.00,510.16 192.00,510.63 193.00,511.09 194.00,511.56 195.00,512.04 196.00,512.52 197.00,513.01 198.00,513.50 199.00,514.00 200.00,514.50 201.00,515.01 202.00,515.53 203.00,516.04 204.00,516.57 205.00,517.09 206.00,517.63 207.00,518.17 208.00,518.71 209.00,519.26 210.00,519.81 211.00,520.37 212.00,520.93 213.00,521.50 214.00,522.07 215.00,522.65 216.00,523.24 217.00,523.82 218.00,524.42 219.00,525.02 220.00,525.62 221.00,526.23 222.00,526.84 223.00,527.45 224.00,528.08 225.00,528.70 226.00,529.33 227.00,529.97 228.00,530.61 229.00,531.26 230.00,531.90 231.00,532.56 232.00,533.22 233.00,533.88 234.00,534.55 235.00,535.22 236.00,535.89 237.00,536.57 238.00,537.26 239.00,537.95 240.00,538.64 241.00,539.34 242.00,540.04 243.00,540.74 244.00,541.45 245.00,542.16 246.00,542.88 247.00,543.60 248.00,544.32 249.00,545.05 250.00,545.78 251.00,546.51 252.00,547.25 253.00,547.99 254.00,548.73 255.00,549.48 256.00,550.23 257.00,550.98 258.00,551.74 259.00,552.50 260.00,553.26 261.00,554.03 262.00,554.80 263.00,555.57 264.00,556.34 265.00,557.12 266.00,557.89 267.00,558.68 268.00,559.46 269.00,560.24 270.00,561.03 271.00,561.82 272.00,562.61 273.00,563.40 274.00,564.20 275.00,564.99 276.00,565.79 277.00,566.59 278.00,567.39 279.00,568.20 280.00,569.00 281.00,569.80 282.00,570.61 283.00,571.41 284.00,572.22 285.00,573.03 286.00,573.84 287.00,574.65 288.00,575.46 289.00,576.27 290.00,577.08 291.00,577.89 292.00,578.70 293.00,579.51 294.00,580.32 295.00,581.13 296.00,581.93 297.00,582.74 298.00,583.55 299.00,584.36 300.00,585.16 301.00,585.97 302.00,586.77 303.00,587.57 304.00,588.37 305.00,589.17 306.00,589.97 307.00,590.76 308.00,591.56 309.00,592.35 310.00,593.14 311.00,593.92 312.00,594.71 313.00,595.49 314.00,596.27 315.00,597.05 316.00,597.82 317.00,598.59 318.00,599.36 319.00,600.12 320.00,600.88 321.00,601.64 322.00,602.39 323.00,603.14 324.00,603.88 325.00,604.62 326.00,605.35 327.00,606.08 328.00,606.81 329.00,607.53 330.00,608.25 331.00,608.96 332.00,609.66 L332.00,649.30 331.00,648.00 330.00,646.71 329.00,645.43 328.00,644.16 327.00,642.90 326.00,641.65 325.00,640.40 324.00,639.17 323.00,637.94 322.00,636.72 321.00,635.51 320.00,634.31 319.00,633.12 318.00,631.93 317.00,630.76 316.00,629.59 315.00,628.43 314.00,627.28 313.00,626.13 312.00,625.00 311.00,623.87 310.00,622.75 309.00,621.63 308.00,620.53 307.00,619.43 306.00,618.34 305.00,617.26 304.00,616.18 303.00,615.11 302.00,614.05 301.00,613.00 300.00,611.96 299.00,610.92 298.00,609.89 297.00,608.86 296.00,607.84 295.00,606.83 294.00,605.83 293.00,604.84 292.00,603.85 291.00,602.86 290.00,601.89 289.00,600.92 288.00,599.96 287.00,599.00 286.00,598.05 285.00,597.11 284.00,596.17 283.00,595.24 282.00,594.32 281.00,593.40 280.00,592.49 279.00,591.59 278.00,590.69 277.00,589.80 276.00,588.91 275.00,588.03 274.00,587.16 273.00,586.29 272.00,585.43 271.00,584.58 270.00,583.73 269.00,582.88 268.00,582.05 267.00,581.21 266.00,580.39 265.00,579.57 264.00,578.75 263.00,577.94 262.00,577.14 261.00,576.34 260.00,575.55 259.00,574.77 258.00,573.98 257.00,573.21 256.00,572.44 255.00,571.67 254.00,570.92 253.00,570.16 252.00,569.41 251.00,568.67 250.00,567.93 249.00,567.20 248.00,566.47 247.00,565.75 246.00,565.03 245.00,564.32 244.00,563.62 243.00,562.91 242.00,562.22 241.00,561.53 240.00,560.84 239.00,560.16 238.00,559.48 237.00,558.81 236.00,558.15 235.00,557.49 234.00,556.83 233.00,556.18 232.00,555.53 231.00,554.89 230.00,554.25 229.00,553.62 228.00,553.00 227.00,552.37 226.00,551.76 225.00,551.14 224.00,550.54 223.00,549.93 222.00,549.34 221.00,548.74 220.00,548.15 219.00,547.57 218.00,546.99 217.00,546.41 216.00,545.85 215.00,545.28 214.00,544.72 213.00,544.16 212.00,543.61 211.00,543.07 210.00,542.52 209.00,541.99 208.00,541.45 207.00,540.92 206.00,540.40 205.00,539.88 204.00,539.37 203.00,538.86 202.00,538.35 201.00,537.85 200.00,537.36 199.00,536.87 198.00,536.38 197.00,535.90 196.00,535.42 195.00,534.95 194.00,534.48 193.00,534.01 192.00,533.55 191.00,533.10 190.00,532.65 189.00,532.20 188.00,531.76 187.00,531.33 186.00,530.90 185.00,530.47 184.00,530.05 183.00,529.63 182.00,529.22 181.00,528.81 180.00,528.40 179.00,528.00 178.00,527.61 177.00,527.22 176.00,526.84 175.00,526.46 174.00,526.08 173.00,525.71 172.00,525.34 171.00,524.98 170.00,524.62 169.00,524.27 168.00,523.93 167.00,523.58 166.00,523.25 165.00,522.91 164.00,522.59 163.00,522.26 162.00,521.95 161.00,521.63 160.00,521.33 159.00,521.02 158.00,520.72 157.00,520.43 156.00,520.14 155.00,519.86 154.00,519.58 153.00,519.31 152.00,519.04 151.00,518.78 150.00,518.52 149.00,518.27 148.00,518.02 147.00,517.78 146.00,517.54 145.00,517.31 144.00,517.09 143.00,516.87 142.00,516.65 141.00,516.44 140.00,516.24 139.00,516.04 138.00,515.84 137.00,515.65 136.00,515.47 135.00,515.29 134.00,515.12 133.00,514.96 132.00,514.80 131.00,514.64 130.00,514.49 129.00,514.35 128.00,514.21 127.00,514.08 126.00,513.96 125.00,513.84 124.00,513.72 123.00,513.61 122.00,513.51 121.00,513.42 120.00,513.33 119.00,513.24 118.00,513.17 117.00,513.09 116.00,513.03 115.00,512.97 114.00,512.92 113.00,512.87 112.00,512.83 111.00,512.80 110.00,512.77 109.00,512.75 108.00,512.74 107.00,512.73 106.00,512.73 105.00,512.74 104.00,512.75 103.00,512.77 102.00,512.80 101.00,512.83 100.00,512.87 99.00,512.92 98.00,512.97 97.00,513.04 96.00,513.11 95.00,513.18 94.00,513.27 93.00,513.36 92.00,513.45 91.00,513.56 90.00,513.67 89.00,513.79 88.00,513.92 87.00,514.06 86.00,514.20 85.00,514.35 84.00,514.51 83.00,514.68 82.00,514.85 81.00,515.04 80.00,515.23 79.00,515.43 78.00,515.63 77.00,515.85 76.00,516.07 75.00,516.30 74.00,516.54 73.00,516.79 72.00,517.05 71.00,517.32 70.00,517.59 69.00,517.87 68.00,518.17 67.00,518.47 Z" fill="#c4e457"/>
<polyline points="67.00,498.24 68.00,498.17 69.00,498.10 70.00,498.04 71.00,497.98 72.00,497.93 73.00,497.88 74.00,497.83 75.00,497.79 76.00,497.75 77.00,497.72 78.00,497.69 79.00,497.66 80.00,497.64 81.00,497.63 82.00,497.62 83.00,497.61 84.00,497.61 85.00,497.61 86.00,497.61 87.00,497.62 88.00,497.64 89.00,497.65 90.00,497.68 91.00,497.70 92.00,497.73 93.00,497.77 94.00,497.81 95.00,497.85 96.00,497.90 97.00,497.96 98.00,498.01 99.00,498.07 100.00,498.14 101.00,498.21 102.00,498.28 103.00,498.36 104.00,498.44 105.00,498.53 106.00,498.62 107.00,498.72 108.00,498.82 109.00,498.92 110.00,499.03 111.00,499.14 112.00,499.26 113.00,499.38 114.00,499.51 115.00,499.64 116.00,499.77 117.00,499.91 118.00,500.05 119.00,500.20 120.00,500.35 121.00,500.51 122.00,500.67 123.00,500.83 124.00,501.00 125.00,501.17 126.00,501.35 127.00,501.53 128.00,501.72 129.00,501.91 130.00,502.10 131.00,502.30 132.00,502.50 133.00,502.71 134.00,502.92 135.00,503.14 136.00,503.36 137.00,503.58 138.00,503.81 139.00,504.04 140.00,504.28 141.00,504.52 142.00,504.77 143.00,505.02 144.00,505.27 145.00,505.53 146.00,505.79 147.00,506.06 148.00,506.33 149.00,506.61 150.00,506.89 151.00,507.17 152.00,507.46 153.00,507.76 154.00,508.05 155.00,508.35 156.00,508.66 157.00,508.97 158.00,509.29 159.00,509.60 160.00,509.93 161.00,510.25 162.00,510.59 163.00,510.92 164.00,511.26 165.00,511.61 166.00,511.96 167.00,512.31 168.00,512.67 169.00,513.03 170.00,513.39 171.00,513.76 172.00,514.14 173.00,514.52 174.00,514.90 175.00,515.29 176.00,515.68 177.00,516.08 178.00,516.48 179.00,516.88 180.00,517.29 181.00,517.70 182.00,518.12 183.00,518.54 184.00,518.97 185.00,519.40 186.00,519.84 187.00,520.27 188.00,520.72 189.00,521.17 190.00,521.62 191.00,522.07 192.00,522.53 193.00,523.00 194.00,523.47 195.00,523.94 196.00,524.42 197.00,524.90 198.00,525.39 199.00,525.88 200.00,526.37 201.00,526.87 202.00,527.37 203.00,527.88 204.00,528.39 205.00,528.91 206.00,529.43 207.00,529.96 208.00,530.49 209.00,531.02 210.00,531.56 211.00,532.10 212.00,532.65 213.00,533.20 214.00,533.75 215.00,534.31 216.00,534.87 217.00,535.44 218.00,536.01 219.00,536.59 220.00,537.17 221.00,537.76 222.00,538.35 223.00,538.94 224.00,539.54 225.00,540.14 226.00,540.75 227.00,541.36 228.00,541.97 229.00,542.59 230.00,543.21 231.00,543.84 232.00,544.47 233.00,545.11 234.00,545.75 235.00,546.40 236.00,547.05 237.00,547.70 238.00,548.36 239.00,549.02 240.00,549.69 241.00,550.36 242.00,551.03 243.00,551.71 244.00,552.40 245.00,553.08 246.00,553.78 247.00,554.47 248.00,555.17 249.00,555.88 250.00,556.59 251.00,557.30 252.00,558.02 253.00,558.74 254.00,559.47 255.00,560.20 256.00,560.94 257.00,561.68 258.00,562.42 259.00,563.17 260.00,563.92 261.00,564.68 262.00,565.44 263.00,566.20 264.00,566.97 265.00,567.75 266.00,568.52 267.00,569.31 268.00,570.09 269.00,570.89 270.00,571.68 271.00,572.48 272.00,573.28 273.00,574.09 274.00,574.91 275.00,575.72 276.00,576.54 277.00,577.37 278.00,578.20 279.00,579.03 280.00,579.87 281.00,580.71 282.00,581.56 283.00,582.41 284.00,583.27 285.00,584.13 286.00,584.99 287.00,585.86 288.00,586.73 289.00,587.61 290.00,588.49 291.00,589.38 292.00,590.27 293.00,591.16 294.00,592.06 295.00,592.96 296.00,593.87 297.00,594.78 298.00,595.69 299.00,596.61 300.00,597.54 301.00,598.47 302.00,599.40 303.00,600.34 304.00,601.28 305.00,602.22 306.00,603.17 307.00,604.13 308.00,605.09 309.00,606.05 310.00,607.02 311.00,607.99 312.00,608.96 313.00,609.94 314.00,610.93 315.00,611.92 316.00,612.91 317.00,613.91 318.00,614.91 319.00,615.91 320.00,616.92 321.00,617.94 322.00,618.96 323.00,619.98 324.00,621.01 325.00,622.04 326.00,623.07 327.00,624.11 328.00,625.16 329.00,626.21 330.00,627.26 331.00,628.32 332.00,629.38" fill="none" stroke="#000" stroke-width="1.6" stroke-linejoin="round"/>
<line x1="120.0" y1="466.7" x2="120.0" y2="654.6" stroke="#a845b5" stroke-width="2.1" stroke-dasharray="6.3 6.77" stroke-dashoffset="1.35"/>
<line x1="278.9" y1="466.7" x2="278.9" y2="654.6" stroke="#ef6f7e" stroke-width="2.1" stroke-dasharray="6.3 6.77" stroke-dashoffset="1.35"/>
<path d="M54.4,466.7H345.0V654.6" fill="none" stroke="#7c7c7c" stroke-width="1.15"/>
<path d="M54.4,654.6V466.7" fill="none" stroke="#5e5e5e" stroke-width="1.1"/>
<path d="M53.9,654.6H345.5" fill="none" stroke="#3a3a3a" stroke-width="1.1"/>
<line x1="66.80" y1="654.6" x2="66.80" y2="659.0" stroke="#2a2a2a" stroke-width="1.4"/>
<line x1="133.04" y1="654.6" x2="133.04" y2="659.0" stroke="#2a2a2a" stroke-width="1.4"/>
<line x1="199.28" y1="654.6" x2="199.28" y2="659.0" stroke="#2a2a2a" stroke-width="1.4"/>
<line x1="265.51" y1="654.6" x2="265.51" y2="659.0" stroke="#2a2a2a" stroke-width="1.4"/>
<line x1="331.75" y1="654.6" x2="331.75" y2="659.0" stroke="#2a2a2a" stroke-width="1.4"/>
<line x1="49.1" y1="621.60" x2="54.4" y2="621.60" stroke="#2a2a2a" stroke-width="1.4"/>
<text x="45.8" y="627.20" text-anchor="end" class="tk">0.5</text>
<line x1="49.1" y1="580.80" x2="54.4" y2="580.80" stroke="#2a2a2a" stroke-width="1.4"/>
<text x="45.8" y="586.40" text-anchor="end" class="tk">1.0</text>
<line x1="49.1" y1="540.00" x2="54.4" y2="540.00" stroke="#2a2a2a" stroke-width="1.4"/>
<text x="45.8" y="545.60" text-anchor="end" class="tk">1.5</text>
<line x1="49.1" y1="499.20" x2="54.4" y2="499.20" stroke="#2a2a2a" stroke-width="1.4"/>
<text x="45.8" y="504.80" text-anchor="end" class="tk">2.0</text>
<text x="337.90" y="483.00" text-anchor="end" class="lt">e</text>
<path d="M427.50,490.06 428.50,490.60 429.50,491.13 430.50,491.66 431.50,492.20 432.50,492.73 433.50,493.26 434.50,493.80 435.50,494.33 436.50,494.87 437.50,495.40 438.50,495.94 439.50,496.47 440.50,497.01 441.50,497.54 442.50,498.08 443.50,498.61 444.50,499.15 445.50,499.68 446.50,500.22 447.50,500.76 448.50,501.29 449.50,501.83 450.50,502.36 451.50,502.90 452.50,503.44 453.50,503.97 454.50,504.51 455.50,505.05 456.50,505.58 457.50,506.12 458.50,506.65 459.50,507.19 460.50,507.73 461.50,508.26 462.50,508.80 463.50,509.34 464.50,509.87 465.50,510.41 466.50,510.95 467.50,511.48 468.50,512.02 469.50,512.56 470.50,513.09 471.50,513.63 472.50,514.16 473.50,514.70 474.50,515.24 475.50,515.77 476.50,516.31 477.50,516.84 478.50,517.38 479.50,517.92 480.50,518.45 481.50,518.99 482.50,519.52 483.50,520.06 484.50,520.59 485.50,521.13 486.50,521.66 487.50,522.20 488.50,522.73 489.50,523.26 490.50,523.80 491.50,524.33 492.50,524.87 493.50,525.40 494.50,525.93 495.50,526.47 496.50,527.00 497.50,527.53 498.50,528.06 499.50,528.60 500.50,529.13 501.50,529.66 502.50,530.19 503.50,530.72 504.50,531.25 505.50,531.78 506.50,532.32 507.50,532.85 508.50,533.38 509.50,533.91 510.50,534.43 511.50,534.96 512.50,535.49 513.50,536.02 514.50,536.55 515.50,537.08 516.50,537.60 517.50,538.13 518.50,538.66 519.50,539.19 520.50,539.71 521.50,540.24 522.50,540.76 523.50,541.29 524.50,541.81 525.50,542.34 526.50,542.86 527.50,543.38 528.50,543.91 529.50,544.43 530.50,544.95 531.50,545.47 532.50,546.00 533.50,546.52 534.50,547.04 535.50,547.56 536.50,548.08 537.50,548.60 538.50,549.12 539.50,549.63 540.50,550.15 541.50,550.67 542.50,551.19 543.50,551.70 544.50,552.22 545.50,552.73 546.50,553.25 547.50,553.76 548.50,554.28 549.50,554.79 550.50,555.30 551.50,555.82 552.50,556.33 553.50,556.84 554.50,557.35 555.50,557.86 556.50,558.37 557.50,558.88 558.50,559.39 559.50,559.89 560.50,560.40 561.50,560.91 562.50,561.41 563.50,561.92 564.50,562.42 565.50,562.93 566.50,563.43 567.50,563.93 568.50,564.44 569.50,564.94 570.50,565.44 571.50,565.94 572.50,566.44 573.50,566.94 574.50,567.43 575.50,567.93 576.50,568.43 577.50,568.93 578.50,569.42 579.50,569.92 580.50,570.41 581.50,570.90 582.50,571.40 583.50,571.89 584.50,572.38 585.50,572.87 586.50,573.36 587.50,573.85 588.50,574.33 589.50,574.82 590.50,575.31 591.50,575.79 592.50,576.28 593.50,576.76 594.50,577.25 595.50,577.73 596.50,578.21 597.50,578.69 598.50,579.17 599.50,579.65 600.50,580.13 601.50,580.61 602.50,581.08 603.50,581.56 604.50,582.03 605.50,582.51 606.50,582.98 607.50,583.45 608.50,583.93 609.50,584.40 610.50,584.87 611.50,585.33 612.50,585.80 613.50,586.27 614.50,586.74 615.50,587.20 616.50,587.66 617.50,588.13 618.50,588.59 619.50,589.05 620.50,589.51 621.50,589.97 622.50,590.43 623.50,590.89 624.50,591.34 625.50,591.80 626.50,592.25 627.50,592.71 628.50,593.16 629.50,593.61 630.50,594.06 631.50,594.51 632.50,594.96 633.50,595.41 634.50,595.85 635.50,596.30 636.50,596.74 637.50,597.19 638.50,597.63 639.50,598.07 640.50,598.51 641.50,598.95 642.50,599.38 643.50,599.82 644.50,600.26 645.50,600.69 646.50,601.12 647.50,601.56 648.50,601.99 649.50,602.42 650.50,602.85 651.50,603.27 652.50,603.70 653.50,604.13 654.50,604.55 655.50,604.97 656.50,605.39 657.50,605.82 658.50,606.23 659.50,606.65 660.50,607.07 661.50,607.49 662.50,607.90 663.50,608.31 664.50,608.73 665.50,609.14 666.50,609.55 667.50,609.96 668.50,610.36 669.50,610.77 670.50,611.17 671.50,611.58 672.50,611.98 673.50,612.38 674.50,612.78 675.50,613.18 676.50,613.57 677.50,613.97 678.50,614.36 679.50,614.76 680.50,615.15 681.50,615.54 682.50,615.93 683.50,616.32 684.50,616.70 685.50,617.09 686.50,617.47 687.50,617.85 688.50,618.23 689.50,618.61 690.50,618.99 691.50,619.37 692.50,619.74 L692.50,645.90 561.50,646.21 560.50,645.13 559.50,644.05 558.50,642.97 557.50,641.89 556.50,640.81 555.50,639.73 554.50,638.66 553.50,637.58 552.50,636.51 551.50,635.44 550.50,634.36 549.50,633.30 548.50,632.23 547.50,631.16 546.50,630.09 545.50,629.03 544.50,627.97 543.50,626.90 542.50,625.84 541.50,624.78 540.50,623.72 539.50,622.67 538.50,621.61 537.50,620.56 536.50,619.50 535.50,618.45 534.50,617.40 533.50,616.35 532.50,615.30 531.50,614.26 530.50,613.21 529.50,612.17 528.50,611.12 527.50,610.08 526.50,609.04 525.50,608.00 524.50,606.96 523.50,605.93 522.50,604.89 521.50,603.86 520.50,602.82 519.50,601.79 518.50,600.76 517.50,599.73 516.50,598.70 515.50,597.68 514.50,596.65 513.50,595.63 512.50,594.60 511.50,593.58 510.50,592.56 509.50,591.54 508.50,590.52 507.50,589.51 506.50,588.49 505.50,587.48 504.50,586.46 503.50,585.45 502.50,584.44 501.50,583.43 500.50,582.43 499.50,581.42 498.50,580.41 497.50,579.41 496.50,578.41 495.50,577.40 494.50,576.40 493.50,575.41 492.50,574.41 491.50,573.41 490.50,572.42 489.50,571.42 488.50,570.43 487.50,569.44 486.50,568.46 485.50,567.48 484.50,566.50 483.50,565.52 482.50,564.55 481.50,563.58 480.50,562.61 479.50,561.64 478.50,560.68 477.50,559.72 476.50,558.77 475.50,557.82 474.50,556.87 473.50,555.92 472.50,554.98 471.50,554.03 470.50,553.10 469.50,552.16 468.50,551.23 467.50,550.30 466.50,549.37 465.50,548.45 464.50,547.53 463.50,546.61 462.50,545.70 461.50,544.79 460.50,543.88 459.50,542.97 458.50,542.07 457.50,541.17 456.50,540.28 455.50,539.38 454.50,538.49 453.50,537.60 452.50,536.72 451.50,535.84 450.50,534.96 449.50,534.08 448.50,533.21 447.50,532.34 446.50,531.47 445.50,530.61 444.50,529.75 443.50,528.89 442.50,528.04 441.50,527.18 440.50,526.33 439.50,525.49 438.50,524.64 437.50,523.80 436.50,522.97 435.50,522.13 434.50,521.30 433.50,520.47 432.50,519.65 431.50,518.82 430.50,518.00 429.50,517.19 428.50,516.37 427.50,515.56 Z" fill="#fbf3a0"/>
<path d="M427.50,493.14 428.50,493.82 429.50,494.50 430.49,495.17 431.49,495.85 432.49,496.53 433.49,497.20 434.49,497.88 435.48,498.55 436.48,499.22 437.48,499.90 438.48,500.57 439.48,501.24 440.47,501.92 441.47,502.59 442.47,503.26 443.47,503.93 444.47,504.60 445.46,505.27 446.46,505.94 447.46,506.61 448.46,507.28 449.45,507.94 450.45,508.61 451.45,509.28 452.45,509.95 453.45,510.61 454.44,511.28 455.44,511.94 456.44,512.61 457.44,513.27 458.44,513.94 459.43,514.60 460.43,515.27 461.43,515.93 462.43,516.59 463.43,517.25 464.42,517.91 465.42,518.58 466.42,519.24 467.42,519.90 468.42,520.56 469.41,521.21 470.41,521.87 471.41,522.53 472.41,523.19 473.41,523.85 474.40,524.50 475.40,525.16 476.40,525.82 477.40,526.47 478.40,527.13 479.39,527.78 480.39,528.44 481.39,529.09 482.39,529.75 483.38,530.40 484.38,531.05 485.38,531.70 486.38,532.35 487.38,533.01 488.37,533.66 489.37,534.31 490.37,534.96 491.37,535.61 492.37,536.26 493.36,536.90 494.36,537.55 495.36,538.20 496.36,538.85 497.36,539.49 498.35,540.14 499.35,540.79 500.35,541.43 501.35,542.08 502.35,542.72 503.34,543.37 504.34,544.01 505.34,544.65 506.34,545.30 507.34,545.94 508.33,546.58 509.33,547.22 510.33,547.86 511.33,548.50 512.33,549.14 513.32,549.78 514.32,550.42 515.32,551.06 516.32,551.70 517.31,552.34 518.31,552.98 519.31,553.61 520.31,554.25 521.31,554.89 522.30,555.52 523.30,556.16 524.30,556.79 525.30,557.43 526.30,558.06 527.29,558.69 528.29,559.33 529.29,559.96 530.29,560.59 531.29,561.22 532.28,561.85 533.28,562.49 534.28,563.12 535.28,563.75 536.28,564.38 537.27,565.00 538.27,565.63 539.27,566.26 540.27,566.89 541.27,567.52 542.26,568.14 543.26,568.77 544.26,569.40 545.26,570.02 546.26,570.65 547.25,571.27 548.25,571.89 549.25,572.52 550.25,573.14 551.24,573.76 552.24,574.39 553.24,575.01 554.24,575.63 555.24,576.25 556.23,576.87 557.23,577.49 558.23,578.11 559.23,578.73 560.23,579.35 561.22,579.97 562.22,580.59 563.22,581.20 564.22,581.82 565.22,582.44 566.21,583.06 567.21,583.67 568.21,584.29 569.21,584.90 570.21,585.52 571.20,586.14 572.20,586.75 573.20,587.37 574.20,587.98 575.20,588.59 576.19,589.21 577.19,589.82 578.19,590.44 579.19,591.05 580.19,591.66 581.18,592.28 582.18,592.89 583.18,593.50 584.18,594.11 585.17,594.72 586.17,595.33 587.17,595.95 588.17,596.56 589.17,597.17 590.16,597.78 591.16,598.39 592.16,599.00 593.16,599.61 594.16,600.22 595.15,600.82 596.15,601.43 597.15,602.04 598.15,602.65 599.15,603.26 600.14,603.86 601.14,604.47 602.14,605.08 603.14,605.68 604.14,606.29 605.13,606.90 606.13,607.50 607.13,608.11 608.13,608.71 609.13,609.32 610.12,609.92 611.12,610.53 612.12,611.13 613.12,611.74 614.12,612.34 615.11,612.94 616.11,613.55 617.11,614.15 618.11,614.75 619.10,615.35 620.10,615.96 621.10,616.56 622.10,617.16 623.10,617.76 624.09,618.36 625.09,618.96 626.09,619.56 627.09,620.16 628.09,620.76 629.08,621.36 630.08,621.96 631.08,622.56 632.08,623.16 633.08,623.76 634.07,624.35 635.07,624.95 636.07,625.55 637.07,626.15 638.07,626.74 639.06,627.34 640.06,627.94 641.06,628.53 642.06,629.13 643.06,629.73 644.05,630.32 645.05,630.92 646.05,631.51 647.05,632.11 648.05,632.70 649.04,633.29 650.04,633.89 651.04,634.48 652.04,635.07 653.03,635.67 654.03,636.26 655.03,636.85 656.03,637.44 657.03,638.04 658.02,638.63 659.02,639.22 660.02,639.81 661.02,640.40 662.02,640.99 663.01,641.58 664.01,642.17 665.01,642.76 666.01,643.35 667.01,643.94 668.00,644.53 669.00,645.12 670.00,645.70 L670.00,645.90 615.30,645.82 614.30,645.04 613.30,644.26 612.30,643.49 611.30,642.71 610.31,641.94 609.31,641.17 608.31,640.40 607.31,639.63 606.31,638.86 605.31,638.09 604.31,637.32 603.31,636.56 602.31,635.79 601.31,635.03 600.32,634.27 599.32,633.50 598.32,632.74 597.32,631.98 596.32,631.22 595.32,630.46 594.32,629.71 593.32,628.95 592.32,628.20 591.33,627.44 590.33,626.69 589.33,625.93 588.33,625.18 587.33,624.43 586.33,623.68 585.33,622.93 584.33,622.19 583.33,621.44 582.34,620.69 581.34,619.95 580.34,619.21 579.34,618.46 578.34,617.72 577.34,616.98 576.34,616.24 575.34,615.50 574.34,614.76 573.34,614.03 572.35,613.29 571.35,612.55 570.35,611.82 569.35,611.09 568.35,610.36 567.35,609.62 566.35,608.89 565.35,608.16 564.35,607.44 563.36,606.71 562.36,605.98 561.36,605.26 560.36,604.53 559.36,603.81 558.36,603.09 557.36,602.36 556.36,601.64 555.36,600.92 554.36,600.21 553.37,599.49 552.37,598.77 551.37,598.06 550.37,597.34 549.37,596.63 548.37,595.91 547.37,595.20 546.37,594.49 545.37,593.78 544.38,593.07 543.38,592.37 542.38,591.66 541.38,590.95 540.38,590.25 539.38,589.54 538.38,588.84 537.38,588.14 536.38,587.44 535.39,586.74 534.39,586.04 533.39,585.34 532.39,584.64 531.39,583.95 530.39,583.25 529.39,582.56 528.39,581.86 527.39,581.17 526.39,580.48 525.40,579.78 524.40,579.09 523.40,578.40 522.40,577.71 521.40,577.02 520.40,576.33 519.40,575.64 518.40,574.96 517.40,574.27 516.41,573.58 515.41,572.90 514.41,572.21 513.41,571.53 512.41,570.84 511.41,570.16 510.41,569.47 509.41,568.79 508.41,568.11 507.41,567.43 506.42,566.75 505.42,566.07 504.42,565.39 503.42,564.71 502.42,564.03 501.42,563.35 500.42,562.68 499.42,562.00 498.42,561.32 497.43,560.65 496.43,559.97 495.43,559.30 494.43,558.63 493.43,557.95 492.43,557.28 491.43,556.61 490.43,555.94 489.43,555.27 488.44,554.60 487.44,553.93 486.44,553.26 485.44,552.59 484.44,551.92 483.44,551.26 482.44,550.59 481.44,549.92 480.44,549.26 479.44,548.59 478.45,547.93 477.45,547.27 476.45,546.60 475.45,545.94 474.45,545.28 473.45,544.62 472.45,543.96 471.45,543.30 470.45,542.64 469.46,541.98 468.46,541.32 467.46,540.66 466.46,540.01 465.46,539.35 464.46,538.70 463.46,538.04 462.46,537.39 461.46,536.73 460.46,536.08 459.47,535.43 458.47,534.77 457.47,534.12 456.47,533.47 455.47,532.82 454.47,532.17 453.47,531.52 452.47,530.87 451.47,530.23 450.48,529.58 449.48,528.93 448.48,528.29 447.48,527.64 446.48,527.00 445.48,526.35 444.48,525.71 443.48,525.06 442.48,524.42 441.49,523.78 440.49,523.14 439.49,522.50 438.49,521.86 437.49,521.22 436.49,520.58 435.49,519.94 434.49,519.30 433.49,518.67 432.49,518.03 431.50,517.39 430.50,516.76 429.50,516.12 428.50,515.49 427.50,514.85 Z" fill="#c5e238"/>
<line x1="427.5" y1="503" x2="640.1" y2="645.9" stroke="#000" stroke-width="1.6"/>
<line x1="439.3" y1="466.7" x2="439.3" y2="654.6" stroke="#a845b5" stroke-width="2.1" stroke-dasharray="6.3 6.77" stroke-dashoffset="1.35"/>
<line x1="562.1" y1="466.7" x2="562.1" y2="654.6" stroke="#ef6f7e" stroke-width="2.1" stroke-dasharray="6.3 6.77" stroke-dashoffset="1.35"/>
<path d="M414.8,466.7H705.3V654.6" fill="none" stroke="#7c7c7c" stroke-width="1.15"/>
<path d="M414.8,654.6V466.7" fill="none" stroke="#5e5e5e" stroke-width="1.1"/>
<path d="M414.3,654.6H705.8" fill="none" stroke="#3a3a3a" stroke-width="1.1"/>
<line x1="427.60" y1="654.6" x2="427.60" y2="659.0" stroke="#2a2a2a" stroke-width="1.4"/>
<line x1="501.60" y1="654.6" x2="501.60" y2="659.0" stroke="#2a2a2a" stroke-width="1.4"/>
<line x1="575.60" y1="654.6" x2="575.60" y2="659.0" stroke="#2a2a2a" stroke-width="1.4"/>
<line x1="649.60" y1="654.6" x2="649.60" y2="659.0" stroke="#2a2a2a" stroke-width="1.4"/>
<line x1="409.5" y1="621.60" x2="414.8" y2="621.60" stroke="#2a2a2a" stroke-width="1.4"/>
<text x="406.2" y="627.20" text-anchor="end" class="tk">0.5</text>
<line x1="409.5" y1="580.80" x2="414.8" y2="580.80" stroke="#2a2a2a" stroke-width="1.4"/>
<text x="406.2" y="586.40" text-anchor="end" class="tk">1.0</text>
<line x1="409.5" y1="540.00" x2="414.8" y2="540.00" stroke="#2a2a2a" stroke-width="1.4"/>
<text x="406.2" y="545.60" text-anchor="end" class="tk">1.5</text>
<line x1="409.5" y1="499.20" x2="414.8" y2="499.20" stroke="#2a2a2a" stroke-width="1.4"/>
<text x="406.2" y="504.80" text-anchor="end" class="tk">2.0</text>
<text x="697.30" y="483.00" text-anchor="end" class="lt">f</text>
<line x1="694.3" y1="650.9" x2="694.3" y2="553" stroke="#3535cc" stroke-width="1.05"/>
<path d="M694.3,547.9 L697.3,553.9 L691.3,553.9 Z" fill="#0a0acc"/>
<text x="657.3" y="545.2" text-anchor="middle" class="an">Increasing</text>
<text x="657.3" y="561.1" text-anchor="middle" class="an">proximity</text>
<text x="657.3" y="577.0" text-anchor="middle" class="an">to stream or</text>
<text x="657.3" y="592.9" text-anchor="middle" class="an">footpath</text>
<text x="66.80" y="216.6" text-anchor="middle" class="tk">0</text>
<text x="133.04" y="216.6" text-anchor="middle" class="tk">25</text>
<text x="199.28" y="216.6" text-anchor="middle" class="tk">50</text>
<text x="265.51" y="216.6" text-anchor="middle" class="tk">75</text>
<text x="331.75" y="216.6" text-anchor="middle" class="tk">100</text>
<text x="427.60" y="216.6" text-anchor="middle" class="tk">0.0</text>
<text x="501.60" y="216.6" text-anchor="middle" class="tk">0.5</text>
<text x="575.60" y="216.6" text-anchor="middle" class="tk">1.0</text>
<text x="649.60" y="216.6" text-anchor="middle" class="tk">1.5</text>
<text x="66.80" y="445.7" text-anchor="middle" class="tk">0</text>
<text x="133.04" y="445.7" text-anchor="middle" class="tk">25</text>
<text x="199.28" y="445.7" text-anchor="middle" class="tk">50</text>
<text x="265.51" y="445.7" text-anchor="middle" class="tk">75</text>
<text x="331.75" y="445.7" text-anchor="middle" class="tk">100</text>
<text x="427.60" y="445.7" text-anchor="middle" class="tk">0.0</text>
<text x="501.60" y="445.7" text-anchor="middle" class="tk">0.5</text>
<text x="575.60" y="445.7" text-anchor="middle" class="tk">1.0</text>
<text x="649.60" y="445.7" text-anchor="middle" class="tk">1.5</text>
<text x="66.80" y="674.8" text-anchor="middle" class="tk">0</text>
<text x="133.04" y="674.8" text-anchor="middle" class="tk">25</text>
<text x="199.28" y="674.8" text-anchor="middle" class="tk">50</text>
<text x="265.51" y="674.8" text-anchor="middle" class="tk">75</text>
<text x="331.75" y="674.8" text-anchor="middle" class="tk">100</text>
<text x="427.60" y="674.8" text-anchor="middle" class="tk">0.0</text>
<text x="501.60" y="674.8" text-anchor="middle" class="tk">0.5</text>
<text x="575.60" y="674.8" text-anchor="middle" class="tk">1.0</text>
<text x="649.60" y="674.8" text-anchor="middle" class="tk">1.5</text>
<text transform="translate(16.2,102.0) rotate(-90)" text-anchor="middle" class="yt">Native species richness</text>
<text transform="translate(16.2,331.3) rotate(-90)" text-anchor="middle" class="yt">Native relative abundance</text>
<text transform="translate(16.2,560.3) rotate(-90)" text-anchor="middle" class="yt">Native diversity (H')</text>
<text x="86.5" y="700.7" class="xi">T. fluminensis</text>
<text x="227.3" y="700.7" class="xt">cover</text>
<text x="279.8" y="700.9" class="xp">(</text>
<text x="287.2" y="700.7" class="xt">%</text>
<text x="304.4" y="700.9" class="xp">)</text>
<text x="437.3" y="701.7" class="xi">T. fluminensis</text>
<text x="578.2" y="701.7" class="xt">volume</text>
<text x="644.3" y="702.3" class="xp">(</text>
<text x="652.3" y="701.7" class="xt">m</text>
<text x="668.6" y="693.3" class="xs">3</text>
<text x="675.8" y="702.3" class="xp">)</text>
</svg></body></html>
